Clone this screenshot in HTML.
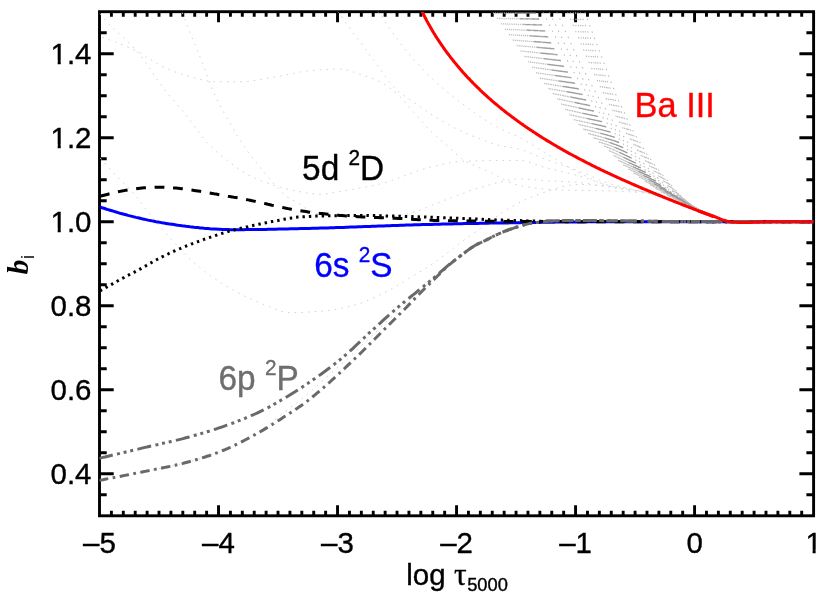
<!DOCTYPE html>
<html><head><meta charset="utf-8"><title>b_i vs log tau</title>
<style>html,body{margin:0;padding:0;background:#fff}svg{display:block;will-change:transform}</style>
</head><body>
<svg width="830" height="593" viewBox="0 0 830 593">
<rect width="830" height="593" fill="#fff"/>
<defs><clipPath id="c"><rect x="99.5" y="11.7" width="714.1" height="504.09999999999997"/></clipPath></defs>
<rect x="99.5" y="11.7" width="714.1" height="504.09999999999997" fill="none" stroke="#000" stroke-width="2.9"/>
<path d="M111.40,515.8v-5.1M111.40,11.7v5.1M123.30,515.8v-5.1M123.30,11.7v5.1M135.20,515.8v-5.1M135.20,11.7v5.1M147.11,515.8v-5.1M147.11,11.7v5.1M159.01,515.8v-5.1M159.01,11.7v5.1M170.91,515.8v-5.1M170.91,11.7v5.1M182.81,515.8v-5.1M182.81,11.7v5.1M194.71,515.8v-5.1M194.71,11.7v5.1M206.62,515.8v-5.1M206.62,11.7v5.1M218.52,515.8v-10.5M218.52,11.7v10.5M230.42,515.8v-5.1M230.42,11.7v5.1M242.32,515.8v-5.1M242.32,11.7v5.1M254.22,515.8v-5.1M254.22,11.7v5.1M266.12,515.8v-5.1M266.12,11.7v5.1M278.02,515.8v-5.1M278.02,11.7v5.1M289.93,515.8v-5.1M289.93,11.7v5.1M301.83,515.8v-5.1M301.83,11.7v5.1M313.73,515.8v-5.1M313.73,11.7v5.1M325.63,515.8v-5.1M325.63,11.7v5.1M337.53,515.8v-10.5M337.53,11.7v10.5M349.44,515.8v-5.1M349.44,11.7v5.1M361.34,515.8v-5.1M361.34,11.7v5.1M373.24,515.8v-5.1M373.24,11.7v5.1M385.14,515.8v-5.1M385.14,11.7v5.1M397.04,515.8v-5.1M397.04,11.7v5.1M408.94,515.8v-5.1M408.94,11.7v5.1M420.85,515.8v-5.1M420.85,11.7v5.1M432.75,515.8v-5.1M432.75,11.7v5.1M444.65,515.8v-5.1M444.65,11.7v5.1M456.55,515.8v-10.5M456.55,11.7v10.5M468.45,515.8v-5.1M468.45,11.7v5.1M480.35,515.8v-5.1M480.35,11.7v5.1M492.25,515.8v-5.1M492.25,11.7v5.1M504.16,515.8v-5.1M504.16,11.7v5.1M516.06,515.8v-5.1M516.06,11.7v5.1M527.96,515.8v-5.1M527.96,11.7v5.1M539.86,515.8v-5.1M539.86,11.7v5.1M551.76,515.8v-5.1M551.76,11.7v5.1M563.66,515.8v-5.1M563.66,11.7v5.1M575.57,515.8v-10.5M575.57,11.7v10.5M587.47,515.8v-5.1M587.47,11.7v5.1M599.37,515.8v-5.1M599.37,11.7v5.1M611.27,515.8v-5.1M611.27,11.7v5.1M623.17,515.8v-5.1M623.17,11.7v5.1M635.08,515.8v-5.1M635.08,11.7v5.1M646.98,515.8v-5.1M646.98,11.7v5.1M658.88,515.8v-5.1M658.88,11.7v5.1M670.78,515.8v-5.1M670.78,11.7v5.1M682.68,515.8v-5.1M682.68,11.7v5.1M694.58,515.8v-10.5M694.58,11.7v10.5M706.48,515.8v-5.1M706.48,11.7v5.1M718.39,515.8v-5.1M718.39,11.7v5.1M730.29,515.8v-5.1M730.29,11.7v5.1M742.19,515.8v-5.1M742.19,11.7v5.1M754.09,515.8v-5.1M754.09,11.7v5.1M765.99,515.8v-5.1M765.99,11.7v5.1M777.89,515.8v-5.1M777.89,11.7v5.1M789.80,515.8v-5.1M789.80,11.7v5.1M801.70,515.8v-5.1M801.70,11.7v5.1M99.5,494.80h7.2M813.6,494.80h-7.2M99.5,473.79h14.2M813.6,473.79h-14.2M99.5,452.79h7.2M813.6,452.79h-7.2M99.5,431.78h7.2M813.6,431.78h-7.2M99.5,410.78h7.2M813.6,410.78h-7.2M99.5,389.77h14.2M813.6,389.77h-14.2M99.5,368.77h7.2M813.6,368.77h-7.2M99.5,347.77h7.2M813.6,347.77h-7.2M99.5,326.76h7.2M813.6,326.76h-7.2M99.5,305.76h14.2M813.6,305.76h-14.2M99.5,284.75h7.2M813.6,284.75h-7.2M99.5,263.75h7.2M813.6,263.75h-7.2M99.5,242.75h7.2M813.6,242.75h-7.2M99.5,221.74h14.2M813.6,221.74h-14.2M99.5,200.74h7.2M813.6,200.74h-7.2M99.5,179.73h7.2M813.6,179.73h-7.2M99.5,158.73h7.2M813.6,158.73h-7.2M99.5,137.73h14.2M813.6,137.73h-14.2M99.5,116.72h7.2M813.6,116.72h-7.2M99.5,95.72h7.2M813.6,95.72h-7.2M99.5,74.71h7.2M813.6,74.71h-7.2M99.5,53.71h14.2M813.6,53.71h-14.2M99.5,32.70h7.2M813.6,32.70h-7.2" stroke="#000" stroke-width="2.9" fill="none"/>
<g clip-path="url(#c)" fill="none">
<g stroke="#d2d2d2" stroke-width="1" stroke-dasharray="1.6 5.1">
<path d="M96.0,8.0 L98.5,11.6 L101.0,15.1 L103.8,18.5 L106.7,21.7 L109.7,24.9 L112.8,27.9 L116.0,30.9 L119.2,33.9 L122.5,36.9 L125.7,39.9 L128.9,42.9 L132.0,45.9 L135.0,49.1 L137.9,52.3 L140.6,55.7 L143.2,59.1 L145.7,62.7 L148.2,66.3 L150.7,69.9 L153.1,73.5 L155.6,77.2 L158.0,80.8 L160.6,84.3 L163.2,87.8 L165.9,91.3 L168.6,94.6 L171.4,98.0 L174.3,101.3 L177.1,104.6 L180.0,107.9 L182.8,111.2 L185.6,114.6 L188.3,118.0 L191.0,121.4 L193.6,125.0 L196.1,128.6 L198.6,132.2 L201.2,135.7 L203.9,139.1 L206.7,142.4 L209.7,145.5 L212.8,148.5 L216.1,151.4 L219.4,154.3 L222.9,157.0 L226.3,159.7 L229.8,162.4 L233.3,165.0 L236.8,167.6 L240.4,170.1 L244.1,172.4 L247.9,174.7 L251.7,176.6 L255.6,178.5 L259.6,180.2 L263.7,181.8 L267.9,183.3 L272.0,184.7 L276.1,186.0 L280.3,187.3 L284.5,188.4 L288.8,189.5 L293.0,190.4 L297.3,191.2 L301.6,192.1 L305.9,192.8 L310.3,193.5 L314.6,194.0 L319.0,194.2 L323.3,194.1 L327.6,193.7 L331.9,193.0 L336.2,192.2 L340.6,191.4 L344.9,190.6 L349.2,189.9 L353.5,189.2 L357.8,188.5 L362.1,187.7 L366.4,186.9 L370.7,186.1 L374.9,185.2 L379.2,184.2 L383.4,183.1 L387.5,181.9 L391.7,180.5 L395.8,179.1 L399.9,177.5 L404.0,176.0 L408.1,174.4 L412.2,172.8 L416.3,171.3 L420.5,169.9 L424.6,168.6 L428.8,167.5 L433.0,166.5 L437.3,165.6 L441.6,164.6 L445.9,163.6 L450.2,162.8 L454.5,162.1 L458.8,161.6 L463.1,161.2 L467.5,161.1 L471.8,161.0 L476.2,160.9 L480.6,160.8 L485.0,160.7 L489.4,160.6 L493.8,160.6 L498.2,160.5 L502.5,160.5 L506.9,160.4 L511.2,160.4 L515.6,160.4 L519.8,160.4 L524.1,160.8 L528.3,161.8 L532.5,163.2 L536.6,164.8 L540.8,166.3 L545.0,167.5 L549.2,168.6 L553.5,169.7 L557.7,170.7 L562.0,171.7 L566.2,172.7 L570.4,173.7 L574.7,174.8 L578.9,176.0 L583.0,177.2 L587.2,178.6 L591.4,180.0 L595.5,181.4 L599.6,182.7 L603.8,184.0 L608.0,185.2 L612.2,186.3 L616.5,187.2 L620.8,188.0 L625.1,188.8 L629.4,189.5 L633.7,190.2 L638.0,190.9 L642.3,191.8 L646.6,192.7 L650.8,193.7 L654.9,194.9 L659.0,196.4 L663.1,197.9 L667.2,199.5 L671.3,201.1 L675.4,202.6 L679.5,204.1 L683.6,205.6 L687.7,207.1 L691.8,208.5 L695.9,210.0 L700.0,211.5"/>
<path d="M178.0,0.0 L178.5,1.6 L179.1,3.2 L179.6,4.8 L180.2,6.4 L180.7,8.0 L181.3,9.7 L181.9,11.3 L182.4,12.9 L183.0,14.4 L183.6,16.0 L184.2,17.6 L184.8,19.2 L185.4,20.8 L186.0,22.4 L186.6,24.0 L187.2,25.6 L187.9,27.1 L188.5,28.7 L189.1,30.3 L189.8,31.9 L190.4,33.4 L191.0,35.0 L191.7,36.6 L192.3,38.2 L193.0,39.7 L193.6,41.3 L194.3,42.9 L194.9,44.4 L195.6,46.0 L196.2,47.6 L196.8,49.2 L197.5,50.7 L198.1,52.3 L198.8,53.9 L199.4,55.5 L200.0,57.0 L200.7,58.6 L201.3,60.2 L201.9,61.8 L202.5,63.4 L203.1,65.0 L203.7,66.6 L204.3,68.2 L204.9,69.8 L205.4,71.4 L206.0,73.0 L206.6,74.6 L207.2,76.2 L207.8,77.8 L208.4,79.4 L209.0,80.9 L209.6,82.5 L210.2,84.1 L210.8,85.7 L211.4,87.3 L212.1,88.8 L212.8,90.4 L213.4,91.9 L214.1,93.5 L214.8,95.0 L215.5,96.6 L216.3,98.1 L217.0,99.6 L217.8,101.1 L218.6,102.6 L219.4,104.1 L220.2,105.6 L221.0,107.1 L221.8,108.6 L222.6,110.1 L223.4,111.6 L224.3,113.1 L225.1,114.6 L225.9,116.1 L226.8,117.5 L227.6,119.0 L228.5,120.5 L229.3,122.0 L230.2,123.4 L231.0,124.9 L231.9,126.4 L232.7,127.9 L233.6,129.3 L234.4,130.8 L235.3,132.3 L236.2,133.7 L237.0,135.2 L237.9,136.6 L238.8,138.1 L239.7,139.5 L240.6,141.0 L241.6,142.4 L242.5,143.8 L243.4,145.2 L244.4,146.6 L245.4,148.0 L246.3,149.4 L247.3,150.8 L248.3,152.1 L249.3,153.5 L250.3,154.9 L251.4,156.2 L252.4,157.6 L253.4,158.9 L254.5,160.3 L255.5,161.6 L256.5,163.0 L257.6,164.3 L258.6,165.7 L259.7,167.0 L260.7,168.3 L261.8,169.6 L262.9,171.0 L264.0,172.3 L265.1,173.6 L266.1,174.9 L267.2,176.2 L268.4,177.5 L269.5,178.7 L270.6,180.0 L271.7,181.3 L272.9,182.5 L274.0,183.8 L275.2,185.1 L276.3,186.4 L277.5,187.6 L278.6,188.9 L279.8,190.1 L281.0,191.4 L282.2,192.5 L283.5,193.7 L284.7,194.8 L286.0,195.9 L287.3,196.9 L288.7,197.8 L290.1,198.7 L291.6,199.6 L293.1,200.4 L294.6,201.2 L296.1,202.1 L297.6,202.9 L299.1,203.7 L300.6,204.6 L302.0,205.5 L303.4,206.5 L304.8,207.5 L306.2,208.5 L307.6,209.5 L309.0,210.3 L310.5,211.1 L312.0,211.8 L313.6,212.4 L315.1,213.1 L316.7,213.7 L318.3,214.3 L319.9,214.8 L321.6,215.2 L323.3,215.6 L325.0,216.0"/>
<path d="M96.0,35.0 L99.9,36.4 L103.8,37.8 L107.7,39.2 L111.5,40.7 L115.4,42.1 L119.3,43.6 L123.1,45.2 L126.9,46.8 L130.7,48.4 L134.5,50.1 L138.2,51.9 L141.8,53.8 L145.3,56.0 L148.8,58.3 L152.3,60.6 L155.8,62.8 L159.3,65.0 L162.9,66.8 L166.7,68.5 L170.5,70.1 L174.3,71.7 L178.2,73.1 L182.2,74.4 L186.1,75.6 L190.1,76.7 L194.1,77.8 L198.1,78.9 L202.2,79.9 L206.2,80.7 L210.3,81.3 L214.4,81.5 L218.5,81.6 L222.6,81.7 L226.8,81.7 L230.9,81.8 L235.1,81.8 L239.2,81.8 L243.3,81.7 L247.4,81.4 L251.5,80.9 L255.6,80.3 L259.7,79.6 L263.8,78.9 L267.9,78.1 L271.9,77.4 L276.0,76.7 L280.1,76.0 L284.2,75.2 L288.2,74.4 L292.3,73.6 L296.3,72.8 L300.4,72.0 L304.5,71.4 L308.6,70.8 L312.7,70.5 L316.8,70.1 L320.9,69.8 L325.1,69.5 L329.2,69.2 L333.3,69.1 L337.4,69.0 L341.5,69.2 L345.5,69.8 L349.6,70.8 L353.6,72.1 L357.6,73.4 L361.5,74.7 L365.4,76.0 L369.4,77.3 L373.3,78.8 L377.1,80.5 L380.7,82.3 L384.3,84.3 L387.8,86.6 L391.2,89.0 L394.4,91.6 L397.5,94.3 L400.5,97.1 L403.3,100.1 L406.0,103.3 L408.7,106.4 L411.3,109.6 L414.1,112.7 L416.8,115.8 L419.6,118.9 L422.3,122.0 L425.1,125.1 L427.9,128.1 L430.8,131.0 L433.8,133.9 L436.8,136.7 L439.9,139.4 L443.1,142.1 L446.2,144.8 L449.3,147.6 L452.3,150.4 L455.4,153.3 L458.5,156.1 L461.7,158.6 L465.0,160.9 L468.6,162.8 L472.2,164.7 L476.0,166.4 L479.9,168.0 L483.7,169.6 L487.5,171.3 L491.3,173.0 L495.1,174.9 L498.8,176.8 L502.5,178.8 L506.3,180.7 L510.0,182.4 L513.9,183.9 L517.7,185.1 L521.6,185.9 L525.6,186.6 L529.7,187.2 L533.8,187.8 L537.9,188.3 L542.0,188.8 L546.2,189.1 L550.4,189.5 L554.5,189.8 L558.7,190.0 L562.8,190.1 L566.9,190.2 L571.0,190.3 L575.2,190.4 L579.3,190.4 L583.4,190.5 L587.6,190.5 L591.7,190.6 L595.8,190.7 L600.0,190.7 L604.1,190.8 L608.2,190.9 L612.3,191.0 L616.5,191.2 L620.6,191.3 L624.8,191.5 L629.0,191.8 L633.1,192.0 L637.3,192.3 L641.4,192.6 L645.4,193.0 L649.5,193.4 L653.4,194.1 L657.3,195.2 L661.2,196.7 L665.1,198.3 L668.9,200.0 L672.8,201.7 L676.7,203.1 L680.6,204.5 L684.5,205.9 L688.3,207.3 L692.2,208.7 L696.1,210.1 L700.0,211.5"/>
<path d="M330.0,0.0 L331.5,2.3 L333.1,4.6 L334.6,6.9 L336.2,9.2 L337.8,11.5 L339.4,13.7 L341.0,16.0 L342.6,18.3 L344.2,20.5 L345.9,22.8 L347.5,25.0 L349.1,27.3 L350.7,29.5 L352.3,31.8 L354.0,34.0 L355.7,36.2 L357.4,38.4 L359.1,40.6 L360.7,42.8 L362.4,45.0 L364.0,47.3 L365.6,49.5 L367.3,51.8 L368.9,54.0 L370.6,56.3 L372.2,58.5 L373.9,60.7 L375.6,62.9 L377.3,65.1 L378.9,67.3 L380.5,69.6 L382.1,71.9 L383.7,74.1 L385.4,76.4 L387.1,78.6 L388.7,80.8 L390.4,83.1 L392.2,85.3 L394.0,87.4 L395.8,89.4 L397.8,91.2 L399.9,92.9 L402.2,94.6 L404.5,96.1 L406.8,97.7 L409.2,99.2 L411.5,100.7 L413.8,102.3 L416.1,103.9 L418.4,105.5 L420.6,107.1 L422.9,108.7 L425.1,110.3 L427.4,111.9 L429.7,113.4 L432.1,114.9 L434.4,116.4 L436.8,117.9 L439.2,119.3 L441.5,120.7 L443.9,122.1 L446.4,123.5 L448.8,124.8 L451.2,126.1 L453.7,127.4 L456.2,128.7 L458.7,129.9 L461.2,131.1 L463.7,132.2 L466.2,133.4 L468.8,134.4 L471.4,135.5 L473.9,136.5 L476.5,137.5 L479.1,138.5 L481.7,139.5 L484.3,140.5 L486.9,141.5 L489.5,142.5 L492.1,143.4 L494.8,144.3 L497.4,145.1 L500.1,145.7 L502.8,146.2 L505.6,146.7 L508.3,147.2 L511.1,147.6 L513.8,148.1 L516.5,148.6 L519.2,149.2 L521.9,149.9 L524.5,150.8 L527.1,151.7 L529.7,152.8 L532.2,153.9 L534.8,155.0 L537.3,156.1 L539.9,157.2 L542.5,158.2 L545.1,159.2 L547.7,160.2 L550.3,161.1 L552.9,162.0 L555.6,162.9 L558.2,163.8 L560.8,164.7 L563.5,165.6 L566.1,166.4 L568.7,167.3 L571.3,168.3 L573.9,169.2 L576.5,170.1 L579.1,171.1 L581.7,172.2 L584.3,173.2 L586.9,174.3 L589.4,175.4 L592.0,176.5 L594.5,177.7 L597.1,178.8 L599.6,179.8 L602.2,180.9 L604.8,181.9 L607.4,182.8 L610.0,183.7 L612.6,184.5 L615.3,185.2 L618.0,185.9 L620.7,186.6 L623.4,187.2 L626.1,187.8 L628.8,188.4 L631.5,189.0 L634.2,189.6 L637.0,190.2 L639.7,190.8 L642.4,191.5 L645.1,192.1 L647.7,192.9 L650.4,193.6 L653.0,194.4 L655.7,195.3 L658.3,196.2 L660.9,197.2 L663.5,198.2 L666.1,199.2 L668.7,200.1 L671.3,201.1 L673.9,202.1 L676.5,203.0 L679.1,204.0 L681.7,204.9 L684.3,205.9 L686.9,206.8 L689.6,207.7 L692.2,208.7 L694.8,209.6 L697.4,210.6 L700.0,211.5"/>
<path d="M370.0,0.0 L371.4,2.1 L372.8,4.2 L374.2,6.3 L375.6,8.4 L377.1,10.5 L378.5,12.6 L379.9,14.7 L381.4,16.8 L382.8,18.9 L384.3,21.0 L385.7,23.0 L387.2,25.1 L388.7,27.1 L390.2,29.2 L391.7,31.2 L393.2,33.2 L394.7,35.3 L396.2,37.4 L397.6,39.4 L399.1,41.5 L400.6,43.5 L402.2,45.6 L403.7,47.6 L405.3,49.5 L406.9,51.5 L408.5,53.5 L410.1,55.4 L411.8,57.3 L413.5,59.2 L415.2,61.1 L416.9,63.0 L418.6,64.8 L420.4,66.7 L422.1,68.5 L423.9,70.4 L425.6,72.2 L427.4,74.0 L429.2,75.8 L431.0,77.6 L432.8,79.3 L434.7,81.0 L436.5,82.8 L438.4,84.4 L440.3,86.1 L442.3,87.8 L444.2,89.4 L446.2,91.0 L448.1,92.6 L450.1,94.2 L452.1,95.8 L454.1,97.4 L456.1,98.9 L458.1,100.5 L460.1,102.0 L462.1,103.6 L464.1,105.1 L466.1,106.7 L468.2,108.2 L470.2,109.7 L472.3,111.2 L474.3,112.6 L476.4,114.1 L478.5,115.5 L480.6,116.9 L482.7,118.3 L484.9,119.6 L487.0,121.0 L489.2,122.3 L491.4,123.6 L493.6,124.9 L495.8,126.1 L498.0,127.3 L500.3,128.5 L502.5,129.7 L504.8,130.7 L507.1,131.8 L509.4,132.8 L511.8,133.8 L514.1,134.8 L516.4,135.9 L518.7,136.9 L520.9,138.1 L523.2,139.3 L525.4,140.6 L527.5,141.9 L529.7,143.2 L531.8,144.5 L534.0,145.9 L536.1,147.3 L538.3,148.6 L540.4,150.0 L542.6,151.3 L544.8,152.6 L546.9,154.0 L549.1,155.3 L551.2,156.6 L553.4,158.0 L555.6,159.3 L557.7,160.7 L559.9,162.0 L562.0,163.3 L564.2,164.6 L566.4,165.9 L568.6,167.2 L570.8,168.4 L573.0,169.7 L575.2,170.8 L577.5,172.0 L579.7,173.1 L582.0,174.3 L584.3,175.4 L586.6,176.6 L588.9,177.7 L591.2,178.8 L593.5,179.9 L595.8,181.0 L598.2,182.0 L600.5,183.0 L602.9,183.9 L605.2,184.8 L607.6,185.5 L610.0,186.2 L612.4,186.9 L614.9,187.4 L617.3,187.9 L619.8,188.4 L622.3,188.8 L624.8,189.2 L627.4,189.6 L629.9,190.0 L632.4,190.3 L634.9,190.7 L637.5,191.1 L640.0,191.5 L642.5,191.9 L645.0,192.4 L647.5,192.9 L649.9,193.5 L652.3,194.1 L654.7,194.9 L657.1,195.7 L659.5,196.5 L661.9,197.4 L664.3,198.3 L666.6,199.3 L669.0,200.2 L671.4,201.1 L673.8,202.0 L676.1,202.9 L678.5,203.8 L680.9,204.6 L683.3,205.5 L685.7,206.3 L688.1,207.2 L690.5,208.1 L692.8,208.9 L695.2,209.8 L697.6,210.6 L700.0,211.5"/>
<path d="M96.0,153.0 L98.9,156.4 L101.7,159.8 L104.7,163.1 L107.6,166.4 L110.6,169.7 L113.6,172.9 L116.6,176.2 L119.7,179.3 L122.8,182.4 L126.0,185.5 L129.2,188.6 L132.3,191.8 L135.2,195.1 L138.0,198.5 L140.6,202.0 L143.3,205.6 L145.9,209.2 L148.7,212.7 L151.4,216.1 L154.3,219.5 L157.1,222.9 L160.0,226.3 L162.9,229.6 L165.8,233.0 L168.7,236.3 L171.6,239.6 L174.6,242.9 L177.6,246.2 L180.5,249.5 L183.5,252.8 L186.6,256.0 L189.8,259.0 L193.1,261.9 L196.4,264.8 L199.8,267.6 L203.3,270.4 L206.9,273.1 L210.5,275.7 L214.1,278.2 L217.7,280.7 L221.4,283.1 L225.2,285.4 L229.0,287.7 L232.9,289.9 L236.8,292.0 L240.7,294.1 L244.6,296.0 L248.6,298.0 L252.7,299.8 L256.7,301.6 L260.8,303.3 L265.0,304.9 L269.1,306.5 L273.3,308.3 L277.5,310.0 L281.7,311.4 L286.0,312.4 L290.3,312.7 L294.7,312.7 L299.1,312.5 L303.5,312.4 L307.9,312.1 L312.4,311.8 L316.9,311.5 L321.3,311.2 L325.7,310.8 L330.1,310.3 L334.4,309.6 L338.8,308.8 L343.2,307.9 L347.5,306.9 L351.8,305.8 L356.1,304.7 L360.3,303.4 L364.4,301.9 L368.5,300.1 L372.6,298.3 L376.6,296.5 L380.6,294.6 L384.6,292.6 L388.5,290.6 L392.4,288.4 L396.2,286.2 L400.0,283.9 L403.8,281.6 L407.5,279.3 L411.3,277.0 L415.1,274.7 L418.9,272.5 L422.7,270.2 L426.5,267.8 L430.2,265.4 L433.8,262.9 L437.4,260.3 L440.9,257.7 L444.5,255.0 L448.0,252.3 L451.5,249.6 L455.0,246.9 L458.5,244.2 L462.0,241.5 L465.6,238.9 L469.2,236.3 L472.8,233.8 L476.5,231.3 L480.1,228.7 L483.7,226.2 L487.3,223.5 L490.9,220.8 L494.4,218.1 L498.0,215.5 L501.6,212.9 L505.2,210.5 L509.0,208.2 L512.8,206.1 L516.7,204.0 L520.7,202.0 L524.7,200.0 L528.8,198.2 L532.9,196.4 L537.0,194.8 L541.1,193.3 L545.3,192.0 L549.5,190.6 L553.8,189.2 L558.1,187.9 L562.4,186.7 L566.8,185.7 L571.1,184.9 L575.5,184.5 L579.9,184.5 L584.3,184.6 L588.7,184.8 L593.1,185.1 L597.6,185.4 L602.0,185.7 L606.4,186.1 L610.8,186.5 L615.2,186.9 L619.6,187.5 L624.0,188.1 L628.4,188.9 L632.8,189.7 L637.1,190.5 L641.5,191.5 L645.8,192.5 L650.0,193.5 L654.3,194.7 L658.4,196.1 L662.6,197.7 L666.7,199.3 L670.9,200.9 L675.0,202.5 L679.2,204.0 L683.3,205.5 L687.5,207.0 L691.7,208.5 L695.8,210.0 L700.0,211.5"/>
<path d="M380.0,218.0 L382.1,217.8 L384.2,217.6 L386.2,217.4 L388.3,217.2 L390.4,216.9 L392.4,216.6 L394.5,216.3 L396.5,215.9 L398.6,215.6 L400.6,215.2 L402.6,214.8 L404.7,214.4 L406.7,214.0 L408.7,213.5 L410.6,213.0 L412.6,212.5 L414.6,211.9 L416.5,211.2 L418.5,210.5 L420.5,209.8 L422.4,209.1 L424.3,208.4 L426.3,207.6 L428.2,206.8 L430.2,206.0 L432.1,205.2 L434.0,204.4 L436.0,203.6 L437.9,202.8 L439.8,202.0 L441.8,201.2 L443.7,200.5 L445.7,199.8 L447.6,199.1 L449.6,198.4 L451.5,197.6 L453.5,196.9 L455.4,196.2 L457.4,195.5 L459.3,194.7 L461.3,194.0 L463.2,193.3 L465.2,192.5 L467.1,191.8 L469.1,191.1 L471.0,190.4 L473.0,189.8 L475.0,189.1 L476.9,188.5 L478.9,187.9 L480.9,187.4 L482.9,186.8 L484.9,186.3 L486.9,185.7 L488.9,185.1 L490.9,184.5 L492.9,183.9 L495.0,183.3 L497.0,182.7 L499.0,182.2 L501.0,181.7 L503.1,181.2 L505.1,180.7 L507.2,180.3 L509.2,179.9 L511.2,179.6 L513.3,179.3 L515.3,179.1 L517.4,179.0 L519.4,178.9 L521.5,178.9 L523.5,179.0 L525.6,179.1 L527.7,179.2 L529.7,179.4 L531.8,179.6 L533.9,179.8 L536.0,180.0 L538.0,180.2 L540.1,180.3 L542.2,180.5 L544.3,180.6 L546.3,180.7 L548.4,180.9 L550.5,181.0 L552.6,181.0 L554.6,181.1 L556.7,181.2 L558.8,181.3 L560.9,181.4 L562.9,181.5 L565.0,181.6 L567.1,181.7 L569.2,181.8 L571.2,181.9 L573.3,182.0 L575.4,182.1 L577.4,182.3 L579.5,182.5 L581.5,182.7 L583.6,182.9 L585.7,183.2 L587.7,183.5 L589.8,183.8 L591.8,184.1 L593.9,184.5 L595.9,184.8 L598.0,185.2 L600.0,185.5 L602.1,185.9 L604.1,186.3 L606.1,186.6 L608.2,187.0 L610.2,187.3 L612.3,187.6 L614.4,187.9 L616.4,188.2 L618.5,188.5 L620.5,188.8 L622.6,189.0 L624.7,189.3 L626.7,189.6 L628.8,189.9 L630.9,190.2 L632.9,190.5 L635.0,190.8 L637.0,191.1 L639.1,191.4 L641.1,191.7 L643.2,192.1 L645.2,192.5 L647.2,192.9 L649.2,193.3 L651.2,193.8 L653.2,194.3 L655.2,194.9 L657.1,195.6 L659.1,196.3 L661.0,197.0 L663.0,197.8 L664.9,198.5 L666.9,199.3 L668.8,200.1 L670.7,200.9 L672.7,201.6 L674.6,202.4 L676.6,203.1 L678.5,203.8 L680.5,204.5 L682.4,205.2 L684.4,205.9 L686.3,206.6 L688.3,207.3 L690.2,208.0 L692.2,208.7 L694.1,209.4 L696.1,210.1 L698.0,210.8 L700.0,211.5"/>
</g>
<path d="M100.0,480.2 L102.0,479.8 L104.0,479.5 L106.0,479.1 L108.0,478.7 L110.0,478.3 L112.0,478.0 L114.0,477.6 L116.0,477.2 L118.0,476.8 L120.0,476.4 L122.0,476.0 L124.0,475.6 L126.0,475.2 L128.0,474.8 L130.0,474.4 L132.0,474.0 L134.0,473.6 L136.0,473.2 L138.0,472.8 L140.0,472.4 L142.0,472.0 L144.0,471.6 L146.0,471.2 L148.0,470.8 L150.0,470.4 L152.0,470.0 L154.0,469.6 L156.0,469.2 L158.0,468.8 L160.0,468.4 L162.0,468.0 L164.0,467.6 L166.0,467.2 L168.0,466.8 L170.0,466.4 L172.0,465.9 L174.0,465.5 L176.0,465.0 L178.0,464.6 L180.0,464.1 L182.0,463.6 L184.0,463.1 L186.0,462.6 L188.0,462.0 L190.0,461.5 L192.0,460.9 L194.0,460.4 L196.0,459.8 L198.0,459.2 L200.0,458.6 L202.0,458.0 L204.0,457.3 L206.0,456.7 L208.0,456.0 L210.0,455.3 L212.0,454.6 L214.0,453.9 L216.0,453.2 L218.0,452.4 L220.0,451.7 L222.0,450.9 L224.0,450.1 L226.0,449.3 L228.0,448.4 L230.0,447.5 L232.0,446.6 L234.0,445.6 L236.0,444.7 L238.0,443.7 L240.0,442.7 L242.0,441.6 L244.0,440.6 L246.0,439.5 L248.0,438.4 L250.0,437.4 L252.0,436.0 L254.0,434.6 L256.0,433.2 L258.0,431.8 L260.0,430.4 L262.0,429.0 L264.0,427.6 L266.0,426.2 L268.0,424.7 L270.0,423.2 L272.0,421.7 L274.0,420.2 L276.0,418.7 L278.0,417.2 L280.0,415.7 L282.0,414.1 L284.0,412.6 L286.0,411.1 L288.0,409.6 L290.0,408.1 L292.0,406.5 L294.0,405.0 L296.0,403.5 L298.0,401.9 L300.0,400.3 L302.0,398.7 L304.0,397.0 L306.0,395.3 L308.0,393.6 L310.0,391.9 L312.0,390.2 L314.0,388.4 L316.0,386.7 L318.0,384.9 L320.0,383.1 L322.0,381.3 L324.0,379.5 L326.0,377.7 L328.0,375.8 L330.0,374.0 L332.0,372.3 L334.0,370.7 L336.0,369.0 L338.0,367.3 L340.0,365.5 L342.0,363.8 L344.0,362.0 L346.0,360.2 L348.0,358.4 L350.0,356.5 L352.0,354.7 L354.0,352.8 L356.0,350.9 L358.0,349.0 L360.0,347.1 L362.0,345.2 L364.0,343.3 L366.0,341.3 L368.0,339.4 L370.0,337.5 L372.0,335.6 L374.0,333.7 L376.0,331.7 L378.0,329.8 L380.0,327.9 L382.0,326.0 L384.0,324.1 L386.0,322.2 L388.0,320.3 L390.0,318.5 L392.0,316.6 L394.0,314.7 L396.0,312.9 L398.0,311.1 L400.0,309.2 L402.0,307.4 L404.0,305.6 L406.0,303.8 L408.0,302.0 L410.0,300.1 L412.0,298.3 L414.0,296.5 L416.0,294.7 L418.0,292.9 L420.0,291.1 L422.0,289.3 L424.0,287.5 L426.0,285.7 L428.0,283.9 L430.0,282.1 L432.0,280.3 L434.0,278.5 L436.0,276.7 L438.0,274.8 L440.0,273.0 L442.0,271.1 L444.0,269.2 L446.0,267.4 L448.0,265.7 L450.0,264.0" stroke="#d2d2d2" stroke-width="1" stroke-dasharray="1.6 5.1"/>
<g stroke-width="1.05" stroke-dasharray="1.5 5.2">
<path d="M493.1,12.5 L494.2,14.0 L495.4,15.5 L496.5,17.0 L497.6,18.5 L498.7,20.0 L499.8,21.5 L500.9,23.0 L502.0,24.5 L503.1,26.0 L504.2,27.5 L505.3,29.0 L506.4,30.5 L507.4,32.0 L508.5,33.5 L509.6,35.0 L510.7,36.5 L511.8,38.0 L512.8,39.5 L513.9,41.0 L515.0,42.5 L516.1,44.0 L517.1,45.5 L518.2,47.0 L519.3,48.5 L520.4,50.0 L521.4,51.5 L522.5,53.0 L523.6,54.5 L524.7,56.0 L525.7,57.5 L526.8,59.0 L527.9,60.5 L529.0,62.0 L530.1,63.5 L531.2,65.0 L532.2,66.5 L533.3,68.0 L534.3,69.5 L535.4,71.0 L536.5,72.5 L537.5,74.0 L538.6,75.5 L539.7,77.0 L540.8,78.5 L541.9,80.0 L543.1,81.5 L544.3,83.0 L545.5,84.5 L546.7,86.0 L548.0,87.5 L549.3,89.0 L550.6,90.5 L551.9,92.0 L553.2,93.5 L554.5,95.0 L555.7,96.5 L557.0,98.0 L558.2,99.5 L559.4,101.0 L560.5,102.5 L561.7,104.0 L562.8,105.5 L564.0,107.0 L565.1,108.5 L566.3,110.0 L567.4,111.5 L568.6,113.0 L569.8,114.5 L571.1,116.0 L572.4,117.5 L573.7,119.0 L575.1,120.5 L576.5,122.0 L578.0,123.5 L579.5,125.0 L581.0,126.5 L582.6,128.0 L584.2,129.5 L585.8,131.0 L587.5,132.5 L589.2,134.0 L590.9,135.5 L592.8,137.0 L594.7,138.5 L596.6,140.0 L598.6,141.5 L600.6,143.0 L602.5,144.5 L604.3,146.0 L606.0,147.5 L607.6,149.0 L609.2,150.5 L610.6,152.0 L612.0,153.5 L613.5,155.0 L614.9,156.5 L616.3,158.0 L617.7,159.5 L619.3,161.0 L620.9,162.5 L622.5,164.0 L624.3,165.5 L626.1,167.0 L628.0,168.5 L629.9,170.0 L631.8,171.5 L633.8,173.0 L635.8,174.5 L637.8,176.0 L639.8,177.5 L641.9,179.0 L644.0,180.5 L646.1,182.0 L648.3,183.5 L650.5,185.0 L652.8,186.5 L655.1,188.0 L657.5,189.5 L659.9,191.0 L662.5,192.5 L665.1,194.0 L667.8,195.5 L670.5,197.0 L673.5,198.5 L676.5,200.0 L679.6,201.5 L682.7,203.0 L685.9,204.5 L689.3,206.0 L692.7,207.5 L696.2,209.0 L699.8,210.5 L703.5,212.0" stroke="#bbbbbb"/>
<path d="M495.3,12.5 L496.4,14.0 L497.5,15.5 L498.6,17.0 L499.7,18.5 L500.8,20.0 L501.9,21.5 L503.0,23.0 L504.1,24.5 L505.1,26.0 L506.2,27.5 L507.3,29.0 L508.4,30.5 L509.4,32.0 L510.5,33.5 L511.6,35.0 L512.6,36.5 L513.7,38.0 L514.7,39.5 L515.8,41.0 L516.9,42.5 L517.9,44.0 L519.0,45.5 L520.0,47.0 L521.1,48.5 L522.2,50.0 L523.2,51.5 L524.3,53.0 L525.3,54.5 L526.4,56.0 L527.5,57.5 L528.5,59.0 L529.6,60.5 L530.7,62.0 L531.7,63.5 L532.8,65.0 L533.9,66.5 L534.9,68.0 L536.0,69.5 L537.0,71.0 L538.1,72.5 L539.1,74.0 L540.2,75.5 L541.3,77.0 L542.4,78.5 L543.5,80.0 L544.7,81.5 L545.8,83.0 L547.1,84.5 L548.3,86.0 L549.5,87.5 L550.8,89.0 L552.1,90.5 L553.4,92.0 L554.7,93.5 L555.9,95.0 L557.2,96.5 L558.4,98.0 L559.6,99.5 L560.8,101.0 L561.9,102.5 L563.1,104.0 L564.2,105.5 L565.4,107.0 L566.5,108.5 L567.6,110.0 L568.8,111.5 L570.0,113.0 L571.2,114.5 L572.4,116.0 L573.7,117.5 L575.0,119.0 L576.4,120.5 L577.8,122.0 L579.3,123.5 L580.8,125.0 L582.3,126.5 L583.9,128.0 L585.5,129.5 L587.1,131.0 L588.7,132.5 L590.4,134.0 L592.1,135.5 L593.9,137.0 L595.8,138.5 L597.7,140.0 L599.6,141.5 L601.5,143.0 L603.4,144.5 L605.2,146.0 L606.9,147.5 L608.5,149.0 L610.0,150.5 L611.4,152.0 L612.9,153.5 L614.3,155.0 L615.6,156.5 L617.1,158.0 L618.5,159.5 L620.0,161.0 L621.6,162.5 L623.3,164.0 L625.0,165.5 L626.8,167.0 L628.7,168.5 L630.6,170.0 L632.5,171.5 L634.5,173.0 L636.4,174.5 L638.4,176.0 L640.4,177.5 L642.5,179.0 L644.5,180.5 L646.6,182.0 L648.8,183.5 L651.0,185.0 L653.2,186.5 L655.6,188.0 L657.9,189.5 L660.4,191.0 L662.9,192.5 L665.5,194.0 L668.2,195.5 L670.9,197.0 L673.8,198.5 L676.8,200.0 L679.9,201.5 L683.0,203.0 L686.2,204.5 L689.4,206.0 L692.8,207.5 L696.3,209.0 L699.8,210.5 L703.5,212.0" stroke="#bbbbbb"/>
<path d="M497.5,12.5 L498.6,14.0 L499.7,15.5 L500.8,17.0 L501.8,18.5 L502.9,20.0 L504.0,21.5 L505.1,23.0 L506.1,24.5 L507.2,26.0 L508.2,27.5 L509.3,29.0 L510.3,30.5 L511.4,32.0 L512.4,33.5 L513.5,35.0 L514.5,36.5 L515.6,38.0 L516.6,39.5 L517.7,41.0 L518.7,42.5 L519.8,44.0 L520.8,45.5 L521.8,47.0 L522.9,48.5 L523.9,50.0 L525.0,51.5 L526.0,53.0 L527.1,54.5 L528.1,56.0 L529.2,57.5 L530.2,59.0 L531.3,60.5 L532.4,62.0 L533.4,63.5 L534.5,65.0 L535.5,66.5 L536.6,68.0 L537.6,69.5 L538.7,71.0 L539.7,72.5 L540.8,74.0 L541.8,75.5 L542.9,77.0 L544.0,78.5 L545.1,80.0 L546.3,81.5 L547.4,83.0 L548.6,84.5 L549.8,86.0 L551.1,87.5 L552.3,89.0 L553.6,90.5 L554.9,92.0 L556.1,93.5 L557.4,95.0 L558.6,96.5 L559.8,98.0 L561.0,99.5 L562.2,101.0 L563.4,102.5 L564.5,104.0 L565.6,105.5 L566.7,107.0 L567.9,108.5 L569.0,110.0 L570.2,111.5 L571.4,113.0 L572.6,114.5 L573.8,116.0 L575.1,117.5 L576.4,119.0 L577.8,120.5 L579.2,122.0 L580.6,123.5 L582.1,125.0 L583.6,126.5 L585.1,128.0 L586.7,129.5 L588.3,131.0 L589.9,132.5 L591.6,134.0 L593.2,135.5 L595.0,137.0 L596.8,138.5 L598.7,140.0 L600.6,141.5 L602.5,143.0 L604.4,144.5 L606.1,146.0 L607.8,147.5 L609.3,149.0 L610.8,150.5 L612.3,152.0 L613.7,153.5 L615.1,155.0 L616.4,156.5 L617.8,158.0 L619.3,159.5 L620.8,161.0 L622.3,162.5 L624.0,164.0 L625.7,165.5 L627.5,167.0 L629.4,168.5 L631.2,170.0 L633.2,171.5 L635.1,173.0 L637.1,174.5 L639.0,176.0 L641.0,177.5 L643.1,179.0 L645.1,180.5 L647.2,182.0 L649.3,183.5 L651.5,185.0 L653.7,186.5 L656.0,188.0 L658.4,189.5 L660.8,191.0 L663.3,192.5 L665.9,194.0 L668.5,195.5 L671.3,197.0 L674.2,198.5 L677.2,200.0 L680.2,201.5 L683.3,203.0 L686.4,204.5 L689.6,206.0 L692.9,207.5 L696.4,209.0 L699.9,210.5 L703.6,212.0" stroke="#bbbbbb"/>
<path d="M499.7,12.5 L500.7,14.0 L501.8,15.5 L502.9,17.0 L504.0,18.5 L505.0,20.0 L506.1,21.5 L507.1,23.0 L508.2,24.5 L509.2,26.0 L510.3,27.5 L511.3,29.0 L512.3,30.5 L513.4,32.0 L514.4,33.5 L515.4,35.0 L516.5,36.5 L517.5,38.0 L518.5,39.5 L519.6,41.0 L520.6,42.5 L521.6,44.0 L522.6,45.5 L523.7,47.0 L524.7,48.5 L525.7,50.0 L526.8,51.5 L527.8,53.0 L528.8,54.5 L529.9,56.0 L530.9,57.5 L531.9,59.0 L533.0,60.5 L534.0,62.0 L535.1,63.5 L536.1,65.0 L537.2,66.5 L538.2,68.0 L539.3,69.5 L540.3,71.0 L541.3,72.5 L542.4,74.0 L543.5,75.5 L544.5,77.0 L545.6,78.5 L546.7,80.0 L547.8,81.5 L549.0,83.0 L550.2,84.5 L551.4,86.0 L552.6,87.5 L553.9,89.0 L555.1,90.5 L556.4,92.0 L557.6,93.5 L558.8,95.0 L560.1,96.5 L561.3,98.0 L562.5,99.5 L563.6,101.0 L564.8,102.5 L565.9,104.0 L567.0,105.5 L568.1,107.0 L569.3,108.5 L570.4,110.0 L571.5,111.5 L572.7,113.0 L573.9,114.5 L575.2,116.0 L576.4,117.5 L577.7,119.0 L579.1,120.5 L580.5,122.0 L581.9,123.5 L583.4,125.0 L584.9,126.5 L586.4,128.0 L588.0,129.5 L589.5,131.0 L591.1,132.5 L592.7,134.0 L594.4,135.5 L596.1,137.0 L597.9,138.5 L599.8,140.0 L601.6,141.5 L603.5,143.0 L605.3,144.5 L607.0,146.0 L608.7,147.5 L610.2,149.0 L611.7,150.5 L613.1,152.0 L614.5,153.5 L615.8,155.0 L617.2,156.5 L618.6,158.0 L620.0,159.5 L621.5,161.0 L623.1,162.5 L624.7,164.0 L626.4,165.5 L628.2,167.0 L630.0,168.5 L631.9,170.0 L633.8,171.5 L635.7,173.0 L637.7,174.5 L639.7,176.0 L641.6,177.5 L643.6,179.0 L645.7,180.5 L647.7,182.0 L649.9,183.5 L652.0,185.0 L654.2,186.5 L656.5,188.0 L658.8,189.5 L661.2,191.0 L663.7,192.5 L666.3,194.0 L668.9,195.5 L671.7,197.0 L674.6,198.5 L677.5,200.0 L680.5,201.5 L683.5,203.0 L686.6,204.5 L689.8,206.0 L693.1,207.5 L696.5,209.0 L700.0,210.5 L703.6,212.0" stroke="#bbbbbb"/>
<path d="M501.8,12.5 L502.9,14.0 L504.0,15.5 L505.0,17.0 L506.1,18.5 L507.1,20.0 L508.2,21.5 L509.2,23.0 L510.2,24.5 L511.3,26.0 L512.3,27.5 L513.3,29.0 L514.3,30.5 L515.3,32.0 L516.4,33.5 L517.4,35.0 L518.4,36.5 L519.4,38.0 L520.4,39.5 L521.4,41.0 L522.4,42.5 L523.5,44.0 L524.5,45.5 L525.5,47.0 L526.5,48.5 L527.5,50.0 L528.5,51.5 L529.5,53.0 L530.6,54.5 L531.6,56.0 L532.6,57.5 L533.6,59.0 L534.7,60.5 L535.7,62.0 L536.8,63.5 L537.8,65.0 L538.8,66.5 L539.9,68.0 L540.9,69.5 L541.9,71.0 L543.0,72.5 L544.0,74.0 L545.1,75.5 L546.1,77.0 L547.2,78.5 L548.3,80.0 L549.4,81.5 L550.6,83.0 L551.7,84.5 L552.9,86.0 L554.2,87.5 L555.4,89.0 L556.6,90.5 L557.8,92.0 L559.1,93.5 L560.3,95.0 L561.5,96.5 L562.7,98.0 L563.9,99.5 L565.0,101.0 L566.2,102.5 L567.3,104.0 L568.4,105.5 L569.5,107.0 L570.6,108.5 L571.8,110.0 L572.9,111.5 L574.1,113.0 L575.3,114.5 L576.5,116.0 L577.8,117.5 L579.1,119.0 L580.4,120.5 L581.8,122.0 L583.2,123.5 L584.7,125.0 L586.2,126.5 L587.7,128.0 L589.2,129.5 L590.8,131.0 L592.3,132.5 L593.9,134.0 L595.5,135.5 L597.2,137.0 L599.0,138.5 L600.8,140.0 L602.6,141.5 L604.4,143.0 L606.2,144.5 L607.9,146.0 L609.5,147.5 L611.0,149.0 L612.5,150.5 L613.9,152.0 L615.3,153.5 L616.6,155.0 L618.0,156.5 L619.4,158.0 L620.8,159.5 L622.3,161.0 L623.8,162.5 L625.5,164.0 L627.2,165.5 L628.9,167.0 L630.7,168.5 L632.6,170.0 L634.5,171.5 L636.4,173.0 L638.3,174.5 L640.3,176.0 L642.2,177.5 L644.2,179.0 L646.3,180.5 L648.3,182.0 L650.4,183.5 L652.5,185.0 L654.7,186.5 L657.0,188.0 L659.3,189.5 L661.7,191.0 L664.1,192.5 L666.7,194.0 L669.3,195.5 L672.1,197.0 L674.9,198.5 L677.9,200.0 L680.8,201.5 L683.8,203.0 L686.8,204.5 L690.0,206.0 L693.2,207.5 L696.5,209.0 L700.0,210.5 L703.6,212.0" stroke="#bbbbbb"/>
<path d="M504.0,12.5 L505.1,14.0 L506.1,15.5 L507.2,17.0 L508.2,18.5 L509.2,20.0 L510.3,21.5 L511.3,23.0 L512.3,24.5 L513.3,26.0 L514.3,27.5 L515.3,29.0 L516.3,30.5 L517.3,32.0 L518.3,33.5 L519.3,35.0 L520.3,36.5 L521.3,38.0 L522.3,39.5 L523.3,41.0 L524.3,42.5 L525.3,44.0 L526.3,45.5 L527.3,47.0 L528.3,48.5 L529.3,50.0 L530.3,51.5 L531.3,53.0 L532.3,54.5 L533.3,56.0 L534.3,57.5 L535.4,59.0 L536.4,60.5 L537.4,62.0 L538.4,63.5 L539.5,65.0 L540.5,66.5 L541.5,68.0 L542.5,69.5 L543.6,71.0 L544.6,72.5 L545.6,74.0 L546.7,75.5 L547.7,77.0 L548.8,78.5 L549.9,80.0 L551.0,81.5 L552.2,83.0 L553.3,84.5 L554.5,86.0 L555.7,87.5 L556.9,89.0 L558.1,90.5 L559.3,92.0 L560.6,93.5 L561.8,95.0 L563.0,96.5 L564.1,98.0 L565.3,99.5 L566.4,101.0 L567.6,102.5 L568.7,104.0 L569.8,105.5 L570.9,107.0 L572.0,108.5 L573.2,110.0 L574.3,111.5 L575.5,113.0 L576.7,114.5 L577.9,116.0 L579.1,117.5 L580.4,119.0 L581.8,120.5 L583.1,122.0 L584.6,123.5 L586.0,125.0 L587.5,126.5 L588.9,128.0 L590.4,129.5 L592.0,131.0 L593.5,132.5 L595.1,134.0 L596.7,135.5 L598.4,137.0 L600.1,138.5 L601.9,140.0 L603.6,141.5 L605.4,143.0 L607.1,144.5 L608.8,146.0 L610.4,147.5 L611.9,149.0 L613.3,150.5 L614.7,152.0 L616.1,153.5 L617.4,155.0 L618.8,156.5 L620.2,158.0 L621.6,159.5 L623.1,161.0 L624.6,162.5 L626.2,164.0 L627.9,165.5 L629.6,167.0 L631.4,168.5 L633.2,170.0 L635.1,171.5 L637.0,173.0 L639.0,174.5 L640.9,176.0 L642.9,177.5 L644.8,179.0 L646.8,180.5 L648.9,182.0 L650.9,183.5 L653.0,185.0 L655.2,186.5 L657.4,188.0 L659.7,189.5 L662.1,191.0 L664.5,192.5 L667.1,194.0 L669.7,195.5 L672.5,197.0 L675.3,198.5 L678.2,200.0 L681.1,201.5 L684.1,203.0 L687.1,204.5 L690.2,206.0 L693.3,207.5 L696.6,209.0 L700.1,210.5 L703.7,212.0" stroke="#bbbbbb"/>
<path d="M506.2,12.5 L507.2,14.0 L508.3,15.5 L509.3,17.0 L510.3,18.5 L511.3,20.0 L512.3,21.5 L513.3,23.0 L514.3,24.5 L515.3,26.0 L516.3,27.5 L517.3,29.0 L518.3,30.5 L519.3,32.0 L520.3,33.5 L521.3,35.0 L522.2,36.5 L523.2,38.0 L524.2,39.5 L525.2,41.0 L526.2,42.5 L527.1,44.0 L528.1,45.5 L529.1,47.0 L530.1,48.5 L531.1,50.0 L532.1,51.5 L533.1,53.0 L534.1,54.5 L535.1,56.0 L536.1,57.5 L537.1,59.0 L538.1,60.5 L539.1,62.0 L540.1,63.5 L541.1,65.0 L542.1,66.5 L543.1,68.0 L544.2,69.5 L545.2,71.0 L546.2,72.5 L547.2,74.0 L548.3,75.5 L549.3,77.0 L550.4,78.5 L551.5,80.0 L552.6,81.5 L553.7,83.0 L554.9,84.5 L556.0,86.0 L557.2,87.5 L558.4,89.0 L559.6,90.5 L560.8,92.0 L562.0,93.5 L563.2,95.0 L564.4,96.5 L565.6,98.0 L566.7,99.5 L567.8,101.0 L569.0,102.5 L570.1,104.0 L571.2,105.5 L572.3,107.0 L573.4,108.5 L574.5,110.0 L575.7,111.5 L576.8,113.0 L578.0,114.5 L579.2,116.0 L580.5,117.5 L581.8,119.0 L583.1,120.5 L584.5,122.0 L585.9,123.5 L587.3,125.0 L588.7,126.5 L590.2,128.0 L591.7,129.5 L593.2,131.0 L594.7,132.5 L596.3,134.0 L597.8,135.5 L599.5,137.0 L601.2,138.5 L602.9,140.0 L604.6,141.5 L606.4,143.0 L608.1,144.5 L609.7,146.0 L611.3,147.5 L612.8,149.0 L614.2,150.5 L615.6,152.0 L616.9,153.5 L618.2,155.0 L619.6,156.5 L621.0,158.0 L622.4,159.5 L623.8,161.0 L625.3,162.5 L626.9,164.0 L628.6,165.5 L630.3,167.0 L632.1,168.5 L633.9,170.0 L635.8,171.5 L637.7,173.0 L639.6,174.5 L641.5,176.0 L643.5,177.5 L645.4,179.0 L647.4,180.5 L649.4,182.0 L651.5,183.5 L653.5,185.0 L655.7,186.5 L657.9,188.0 L660.2,189.5 L662.5,191.0 L665.0,192.5 L667.5,194.0 L670.1,195.5 L672.9,197.0 L675.7,198.5 L678.6,200.0 L681.5,201.5 L684.4,203.0 L687.3,204.5 L690.3,206.0 L693.5,207.5 L696.7,209.0 L700.2,210.5 L703.7,212.0" stroke="#bbbbbb"/>
<path d="M508.4,12.5 L509.4,14.0 L510.4,15.5 L511.4,17.0 L512.4,18.5 L513.4,20.0 L514.4,21.5 L515.4,23.0 L516.4,24.5 L517.4,26.0 L518.4,27.5 L519.3,29.0 L520.3,30.5 L521.3,32.0 L522.2,33.5 L523.2,35.0 L524.2,36.5 L525.1,38.0 L526.1,39.5 L527.1,41.0 L528.0,42.5 L529.0,44.0 L530.0,45.5 L530.9,47.0 L531.9,48.5 L532.9,50.0 L533.8,51.5 L534.8,53.0 L535.8,54.5 L536.8,56.0 L537.8,57.5 L538.8,59.0 L539.8,60.5 L540.8,62.0 L541.8,63.5 L542.8,65.0 L543.8,66.5 L544.8,68.0 L545.8,69.5 L546.8,71.0 L547.8,72.5 L548.9,74.0 L549.9,75.5 L551.0,77.0 L552.0,78.5 L553.1,80.0 L554.2,81.5 L555.3,83.0 L556.4,84.5 L557.6,86.0 L558.8,87.5 L559.9,89.0 L561.1,90.5 L562.3,92.0 L563.5,93.5 L564.7,95.0 L565.8,96.5 L567.0,98.0 L568.1,99.5 L569.3,101.0 L570.4,102.5 L571.5,104.0 L572.6,105.5 L573.7,107.0 L574.8,108.5 L575.9,110.0 L577.1,111.5 L578.2,113.0 L579.4,114.5 L580.6,116.0 L581.8,117.5 L583.1,119.0 L584.4,120.5 L585.8,122.0 L587.2,123.5 L588.6,125.0 L590.0,126.5 L591.5,128.0 L592.9,129.5 L594.4,131.0 L595.9,132.5 L597.4,134.0 L599.0,135.5 L600.6,137.0 L602.3,138.5 L603.9,140.0 L605.6,141.5 L607.3,143.0 L609.0,144.5 L610.6,146.0 L612.2,147.5 L613.6,149.0 L615.0,150.5 L616.4,152.0 L617.7,153.5 L619.0,155.0 L620.4,156.5 L621.7,158.0 L623.1,159.5 L624.6,161.0 L626.1,162.5 L627.7,164.0 L629.3,165.5 L631.0,167.0 L632.8,168.5 L634.6,170.0 L636.4,171.5 L638.3,173.0 L640.2,174.5 L642.1,176.0 L644.1,177.5 L646.0,179.0 L648.0,180.5 L650.0,182.0 L652.0,183.5 L654.1,185.0 L656.2,186.5 L658.4,188.0 L660.6,189.5 L662.9,191.0 L665.4,192.5 L667.9,194.0 L670.5,195.5 L673.3,197.0 L676.1,198.5 L678.9,200.0 L681.8,201.5 L684.6,203.0 L687.5,204.5 L690.5,206.0 L693.6,207.5 L696.8,209.0 L700.2,210.5 L703.8,212.0" stroke="#bbbbbb"/>
<path d="M510.6,12.5 L511.6,14.0 L512.6,15.5 L513.6,17.0 L514.6,18.5 L515.5,20.0 L516.5,21.5 L517.5,23.0 L518.5,24.5 L519.4,26.0 L520.4,27.5 L521.3,29.0 L522.3,30.5 L523.2,32.0 L524.2,33.5 L525.1,35.0 L526.1,36.5 L527.0,38.0 L528.0,39.5 L528.9,41.0 L529.9,42.5 L530.8,44.0 L531.8,45.5 L532.7,47.0 L533.7,48.5 L534.7,50.0 L535.6,51.5 L536.6,53.0 L537.5,54.5 L538.5,56.0 L539.5,57.5 L540.5,59.0 L541.4,60.5 L542.4,62.0 L543.4,63.5 L544.4,65.0 L545.4,66.5 L546.4,68.0 L547.4,69.5 L548.4,71.0 L549.5,72.5 L550.5,74.0 L551.5,75.5 L552.6,77.0 L553.6,78.5 L554.7,80.0 L555.8,81.5 L556.9,83.0 L558.0,84.5 L559.1,86.0 L560.3,87.5 L561.5,89.0 L562.6,90.5 L563.8,92.0 L565.0,93.5 L566.1,95.0 L567.3,96.5 L568.4,98.0 L569.6,99.5 L570.7,101.0 L571.8,102.5 L572.9,104.0 L574.0,105.5 L575.1,107.0 L576.2,108.5 L577.3,110.0 L578.4,111.5 L579.6,113.0 L580.8,114.5 L582.0,116.0 L583.2,117.5 L584.5,119.0 L585.8,120.5 L587.1,122.0 L588.5,123.5 L589.9,125.0 L591.3,126.5 L592.7,128.0 L594.2,129.5 L595.7,131.0 L597.1,132.5 L598.6,134.0 L600.1,135.5 L601.7,137.0 L603.3,138.5 L605.0,140.0 L606.7,141.5 L608.3,143.0 L609.9,144.5 L611.5,146.0 L613.0,147.5 L614.5,149.0 L615.8,150.5 L617.2,152.0 L618.5,153.5 L619.8,155.0 L621.2,156.5 L622.5,158.0 L623.9,159.5 L625.3,161.0 L626.8,162.5 L628.4,164.0 L630.0,165.5 L631.7,167.0 L633.5,168.5 L635.3,170.0 L637.1,171.5 L639.0,173.0 L640.9,174.5 L642.8,176.0 L644.7,177.5 L646.6,179.0 L648.5,180.5 L650.5,182.0 L652.5,183.5 L654.6,185.0 L656.7,186.5 L658.8,188.0 L661.1,189.5 L663.4,191.0 L665.8,192.5 L668.3,194.0 L670.9,195.5 L673.7,197.0 L676.4,198.5 L679.3,200.0 L682.1,201.5 L684.9,203.0 L687.8,204.5 L690.7,206.0 L693.7,207.5 L696.9,209.0 L700.3,210.5 L703.8,212.0" stroke="#bbbbbb"/>
<path d="M512.8,12.5 L513.8,14.0 L514.7,15.5 L515.7,17.0 L516.7,18.5 L517.7,20.0 L518.6,21.5 L519.6,23.0 L520.5,24.5 L521.5,26.0 L522.4,27.5 L523.3,29.0 L524.3,30.5 L525.2,32.0 L526.2,33.5 L527.1,35.0 L528.0,36.5 L529.0,38.0 L529.9,39.5 L530.8,41.0 L531.8,42.5 L532.7,44.0 L533.6,45.5 L534.6,47.0 L535.5,48.5 L536.4,50.0 L537.4,51.5 L538.3,53.0 L539.3,54.5 L540.2,56.0 L541.2,57.5 L542.2,59.0 L543.1,60.5 L544.1,62.0 L545.1,63.5 L546.1,65.0 L547.1,66.5 L548.1,68.0 L549.1,69.5 L550.1,71.0 L551.1,72.5 L552.1,74.0 L553.1,75.5 L554.2,77.0 L555.2,78.5 L556.3,80.0 L557.4,81.5 L558.5,83.0 L559.6,84.5 L560.7,86.0 L561.8,87.5 L563.0,89.0 L564.1,90.5 L565.3,92.0 L566.4,93.5 L567.6,95.0 L568.7,96.5 L569.9,98.0 L571.0,99.5 L572.1,101.0 L573.2,102.5 L574.3,104.0 L575.4,105.5 L576.5,107.0 L577.6,108.5 L578.7,110.0 L579.8,111.5 L580.9,113.0 L582.1,114.5 L583.3,116.0 L584.5,117.5 L585.8,119.0 L587.1,120.5 L588.5,122.0 L589.8,123.5 L591.2,125.0 L592.6,126.5 L594.0,128.0 L595.4,129.5 L596.9,131.0 L598.3,132.5 L599.8,134.0 L601.3,135.5 L602.8,137.0 L604.4,138.5 L606.0,140.0 L607.7,141.5 L609.3,143.0 L610.9,144.5 L612.4,146.0 L613.9,147.5 L615.3,149.0 L616.7,150.5 L618.0,152.0 L619.3,153.5 L620.6,155.0 L622.0,156.5 L623.3,158.0 L624.7,159.5 L626.1,161.0 L627.6,162.5 L629.1,164.0 L630.7,165.5 L632.4,167.0 L634.1,168.5 L635.9,170.0 L637.8,171.5 L639.6,173.0 L641.5,174.5 L643.4,176.0 L645.3,177.5 L647.2,179.0 L649.1,180.5 L651.1,182.0 L653.1,183.5 L655.1,185.0 L657.2,186.5 L659.3,188.0 L661.5,189.5 L663.8,191.0 L666.2,192.5 L668.7,194.0 L671.3,195.5 L674.0,197.0 L676.8,198.5 L679.6,200.0 L682.4,201.5 L685.2,203.0 L688.0,204.5 L690.9,206.0 L693.9,207.5 L697.0,209.0 L700.3,210.5 L703.8,212.0" stroke="#bbbbbb"/>
<path d="M515.0,12.5 L515.9,14.0 L516.9,15.5 L517.9,17.0 L518.8,18.5 L519.8,20.0 L520.7,21.5 L521.6,23.0 L522.6,24.5 L523.5,26.0 L524.4,27.5 L525.4,29.0 L526.3,30.5 L527.2,32.0 L528.1,33.5 L529.0,35.0 L529.9,36.5 L530.9,38.0 L531.8,39.5 L532.7,41.0 L533.6,42.5 L534.5,44.0 L535.4,45.5 L536.4,47.0 L537.3,48.5 L538.2,50.0 L539.2,51.5 L540.1,53.0 L541.0,54.5 L542.0,56.0 L542.9,57.5 L543.9,59.0 L544.8,60.5 L545.8,62.0 L546.8,63.5 L547.8,65.0 L548.7,66.5 L549.7,68.0 L550.7,69.5 L551.7,71.0 L552.7,72.5 L553.7,74.0 L554.8,75.5 L555.8,77.0 L556.8,78.5 L557.9,80.0 L558.9,81.5 L560.0,83.0 L561.1,84.5 L562.2,86.0 L563.4,87.5 L564.5,89.0 L565.6,90.5 L566.8,92.0 L567.9,93.5 L569.0,95.0 L570.2,96.5 L571.3,98.0 L572.4,99.5 L573.5,101.0 L574.6,102.5 L575.7,104.0 L576.8,105.5 L577.8,107.0 L578.9,108.5 L580.1,110.0 L581.2,111.5 L582.3,113.0 L583.5,114.5 L584.7,116.0 L585.9,117.5 L587.2,119.0 L588.5,120.5 L589.8,122.0 L591.1,123.5 L592.5,125.0 L593.9,126.5 L595.3,128.0 L596.7,129.5 L598.1,131.0 L599.5,132.5 L601.0,134.0 L602.4,135.5 L603.9,137.0 L605.5,138.5 L607.1,140.0 L608.7,141.5 L610.2,143.0 L611.8,144.5 L613.3,146.0 L614.8,147.5 L616.2,149.0 L617.5,150.5 L618.8,152.0 L620.1,153.5 L621.4,155.0 L622.7,156.5 L624.1,158.0 L625.4,159.5 L626.8,161.0 L628.3,162.5 L629.8,164.0 L631.4,165.5 L633.1,167.0 L634.8,168.5 L636.6,170.0 L638.4,171.5 L640.3,173.0 L642.1,174.5 L644.0,176.0 L645.9,177.5 L647.8,179.0 L649.7,180.5 L651.6,182.0 L653.6,183.5 L655.6,185.0 L657.7,186.5 L659.8,188.0 L662.0,189.5 L664.2,191.0 L666.6,192.5 L669.1,194.0 L671.7,195.5 L674.4,197.0 L677.2,198.5 L680.0,200.0 L682.7,201.5 L685.5,203.0 L688.2,204.5 L691.0,206.0 L694.0,207.5 L697.1,209.0 L700.4,210.5 L703.9,212.0" stroke="#bbbbbb"/>
<path d="M516.3,12.5 L517.3,14.0 L518.3,15.5 L519.2,17.0 L520.2,18.5 L521.1,20.0 L522.0,21.5 L523.0,23.0 L523.9,24.5 L524.8,26.0 L525.7,27.5 L526.6,29.0 L527.6,30.5 L528.5,32.0 L529.4,33.5 L530.3,35.0 L531.2,36.5 L532.1,38.0 L533.0,39.5 L533.9,41.0 L534.8,42.5 L535.7,44.0 L536.6,45.5 L537.5,47.0 L538.4,48.5 L539.4,50.0 L540.3,51.5 L541.2,53.0 L542.1,54.5 L543.1,56.0 L544.0,57.5 L545.0,59.0 L545.9,60.5 L546.9,62.0 L547.8,63.5 L548.8,65.0 L549.8,66.5 L550.8,68.0 L551.8,69.5 L552.8,71.0 L553.8,72.5 L554.8,74.0 L555.8,75.5 L556.8,77.0 L557.8,78.5 L558.9,80.0 L560.0,81.5 L561.0,83.0 L562.1,84.5 L563.2,86.0 L564.4,87.5 L565.5,89.0 L566.6,90.5 L567.7,92.0 L568.9,93.5 L570.0,95.0 L571.1,96.5 L572.2,98.0 L573.3,99.5 L574.4,101.0 L575.5,102.5 L576.6,104.0 L577.6,105.5 L578.7,107.0 L579.8,108.5 L580.9,110.0 L582.1,111.5 L583.2,113.0 L584.4,114.5 L585.5,116.0 L586.8,117.5 L588.0,119.0 L589.3,120.5 L590.6,122.0 L592.0,123.5 L593.3,125.0 L594.7,126.5 L596.1,128.0 L597.5,129.5 L598.9,131.0 L600.3,132.5 L601.7,134.0 L603.2,135.5 L604.7,137.0 L606.2,138.5 L607.7,140.0 L609.3,141.5 L610.9,143.0 L612.4,144.5 L613.9,146.0 L615.3,147.5 L616.7,149.0 L618.1,150.5 L619.4,152.0 L620.7,153.5 L622.0,155.0 L623.3,156.5 L624.6,158.0 L625.9,159.5 L627.3,161.0 L628.8,162.5 L630.3,164.0 L631.9,165.5 L633.6,167.0 L635.3,168.5 L637.0,170.0 L638.8,171.5 L640.7,173.0 L642.5,174.5 L644.4,176.0 L646.3,177.5 L648.2,179.0 L650.1,180.5 L652.0,182.0 L653.9,183.5 L655.9,185.0 L658.0,186.5 L660.1,188.0 L662.2,189.5 L664.5,191.0 L666.9,192.5 L669.4,194.0 L672.0,195.5 L674.7,197.0 L677.4,198.5 L680.2,200.0 L682.9,201.5 L685.6,203.0 L688.4,204.5 L691.2,206.0 L694.1,207.5 L697.2,209.0 L700.4,210.5 L703.9,212.0" stroke="#959595"/>
<path d="M517.6,12.5 L518.5,14.0 L519.5,15.5 L520.4,17.0 L521.4,18.5 L522.3,20.0 L523.2,21.5 L524.1,23.0 L525.1,24.5 L526.0,26.0 L526.9,27.5 L527.8,29.0 L528.7,30.5 L529.6,32.0 L530.5,33.5 L531.4,35.0 L532.3,36.5 L533.2,38.0 L534.1,39.5 L535.0,41.0 L535.9,42.5 L536.8,44.0 L537.7,45.5 L538.6,47.0 L539.5,48.5 L540.4,50.0 L541.3,51.5 L542.2,53.0 L543.1,54.5 L544.1,56.0 L545.0,57.5 L545.9,59.0 L546.9,60.5 L547.8,62.0 L548.8,63.5 L549.8,65.0 L550.7,66.5 L551.7,68.0 L552.7,69.5 L553.7,71.0 L554.7,72.5 L555.7,74.0 L556.7,75.5 L557.7,77.0 L558.8,78.5 L559.8,80.0 L560.9,81.5 L561.9,83.0 L563.0,84.5 L564.1,86.0 L565.2,87.5 L566.3,89.0 L567.5,90.5 L568.6,92.0 L569.7,93.5 L570.8,95.0 L571.9,96.5 L573.0,98.0 L574.1,99.5 L575.2,101.0 L576.3,102.5 L577.4,104.0 L578.4,105.5 L579.5,107.0 L580.6,108.5 L581.7,110.0 L582.8,111.5 L584.0,113.0 L585.1,114.5 L586.3,116.0 L587.5,117.5 L588.8,119.0 L590.1,120.5 L591.4,122.0 L592.7,123.5 L594.1,125.0 L595.4,126.5 L596.8,128.0 L598.2,129.5 L599.6,131.0 L601.0,132.5 L602.4,134.0 L603.8,135.5 L605.3,137.0 L606.8,138.5 L608.3,140.0 L609.9,141.5 L611.4,143.0 L612.9,144.5 L614.4,146.0 L615.8,147.5 L617.2,149.0 L618.5,150.5 L619.8,152.0 L621.1,153.5 L622.4,155.0 L623.7,156.5 L625.0,158.0 L626.4,159.5 L627.8,161.0 L629.2,162.5 L630.7,164.0 L632.3,165.5 L634.0,167.0 L635.7,168.5 L637.4,170.0 L639.2,171.5 L641.0,173.0 L642.9,174.5 L644.7,176.0 L646.6,177.5 L648.5,179.0 L650.4,180.5 L652.3,182.0 L654.2,183.5 L656.2,185.0 L658.2,186.5 L660.3,188.0 L662.5,189.5 L664.7,191.0 L667.1,192.5 L669.6,194.0 L672.2,195.5 L674.9,197.0 L677.6,198.5 L680.4,200.0 L683.1,201.5 L685.8,203.0 L688.5,204.5 L691.3,206.0 L694.2,207.5 L697.2,209.0 L700.5,210.5 L703.9,212.0" stroke="#959595"/>
<path d="M518.8,12.5 L519.8,14.0 L520.7,15.5 L521.6,17.0 L522.6,18.5 L523.5,20.0 L524.4,21.5 L525.3,23.0 L526.2,24.5 L527.1,26.0 L528.0,27.5 L528.9,29.0 L529.8,30.5 L530.7,32.0 L531.6,33.5 L532.5,35.0 L533.4,36.5 L534.3,38.0 L535.1,39.5 L536.0,41.0 L536.9,42.5 L537.8,44.0 L538.7,45.5 L539.6,47.0 L540.5,48.5 L541.4,50.0 L542.3,51.5 L543.2,53.0 L544.1,54.5 L545.0,56.0 L546.0,57.5 L546.9,59.0 L547.8,60.5 L548.8,62.0 L549.7,63.5 L550.7,65.0 L551.7,66.5 L552.6,68.0 L553.6,69.5 L554.6,71.0 L555.6,72.5 L556.6,74.0 L557.6,75.5 L558.6,77.0 L559.7,78.5 L560.7,80.0 L561.8,81.5 L562.8,83.0 L563.9,84.5 L565.0,86.0 L566.1,87.5 L567.2,89.0 L568.3,90.5 L569.4,92.0 L570.5,93.5 L571.6,95.0 L572.7,96.5 L573.8,98.0 L574.9,99.5 L576.0,101.0 L577.1,102.5 L578.1,104.0 L579.2,105.5 L580.3,107.0 L581.4,108.5 L582.5,110.0 L583.6,111.5 L584.7,113.0 L585.9,114.5 L587.1,116.0 L588.3,117.5 L589.6,119.0 L590.8,120.5 L592.1,122.0 L593.5,123.5 L594.8,125.0 L596.2,126.5 L597.5,128.0 L598.9,129.5 L600.3,131.0 L601.7,132.5 L603.1,134.0 L604.5,135.5 L605.9,137.0 L607.4,138.5 L608.9,140.0 L610.4,141.5 L612.0,143.0 L613.4,144.5 L614.9,146.0 L616.3,147.5 L617.7,149.0 L619.0,150.5 L620.3,152.0 L621.6,153.5 L622.9,155.0 L624.1,156.5 L625.5,158.0 L626.8,159.5 L628.2,161.0 L629.6,162.5 L631.1,164.0 L632.7,165.5 L634.3,167.0 L636.0,168.5 L637.8,170.0 L639.6,171.5 L641.4,173.0 L643.2,174.5 L645.1,176.0 L647.0,177.5 L648.8,179.0 L650.7,180.5 L652.6,182.0 L654.5,183.5 L656.5,185.0 L658.5,186.5 L660.6,188.0 L662.8,189.5 L665.0,191.0 L667.3,192.5 L669.8,194.0 L672.4,195.5 L675.1,197.0 L677.9,198.5 L680.6,200.0 L683.3,201.5 L685.9,203.0 L688.6,204.5 L691.4,206.0 L694.2,207.5 L697.3,209.0 L700.5,210.5 L703.9,212.0" stroke="#959595"/>
<path d="M520.1,12.5 L521.0,14.0 L521.9,15.5 L522.9,17.0 L523.8,18.5 L524.7,20.0 L525.6,21.5 L526.5,23.0 L527.4,24.5 L528.3,26.0 L529.2,27.5 L530.1,29.0 L530.9,30.5 L531.8,32.0 L532.7,33.5 L533.6,35.0 L534.5,36.5 L535.3,38.0 L536.2,39.5 L537.1,41.0 L538.0,42.5 L538.9,44.0 L539.7,45.5 L540.6,47.0 L541.5,48.5 L542.4,50.0 L543.3,51.5 L544.2,53.0 L545.1,54.5 L546.0,56.0 L546.9,57.5 L547.9,59.0 L548.8,60.5 L549.7,62.0 L550.7,63.5 L551.6,65.0 L552.6,66.5 L553.6,68.0 L554.5,69.5 L555.5,71.0 L556.5,72.5 L557.5,74.0 L558.5,75.5 L559.5,77.0 L560.6,78.5 L561.6,80.0 L562.7,81.5 L563.7,83.0 L564.8,84.5 L565.9,86.0 L567.0,87.5 L568.1,89.0 L569.2,90.5 L570.3,92.0 L571.4,93.5 L572.5,95.0 L573.6,96.5 L574.6,98.0 L575.7,99.5 L576.8,101.0 L577.9,102.5 L578.9,104.0 L580.0,105.5 L581.1,107.0 L582.2,108.5 L583.3,110.0 L584.4,111.5 L585.5,113.0 L586.7,114.5 L587.9,116.0 L589.1,117.5 L590.3,119.0 L591.6,120.5 L592.9,122.0 L594.2,123.5 L595.5,125.0 L596.9,126.5 L598.2,128.0 L599.6,129.5 L601.0,131.0 L602.3,132.5 L603.7,134.0 L605.1,135.5 L606.6,137.0 L608.0,138.5 L609.5,140.0 L611.0,141.5 L612.5,143.0 L614.0,144.5 L615.4,146.0 L616.8,147.5 L618.2,149.0 L619.5,150.5 L620.8,152.0 L622.0,153.5 L623.3,155.0 L624.6,156.5 L625.9,158.0 L627.2,159.5 L628.6,161.0 L630.1,162.5 L631.6,164.0 L633.1,165.5 L634.7,167.0 L636.4,168.5 L638.2,170.0 L639.9,171.5 L641.8,173.0 L643.6,174.5 L645.4,176.0 L647.3,177.5 L649.2,179.0 L651.0,180.5 L652.9,182.0 L654.8,183.5 L656.8,185.0 L658.8,186.5 L660.9,188.0 L663.0,189.5 L665.2,191.0 L667.6,192.5 L670.1,194.0 L672.7,195.5 L675.3,197.0 L678.1,198.5 L680.8,200.0 L683.5,201.5 L686.1,203.0 L688.7,204.5 L691.5,206.0 L694.3,207.5 L697.3,209.0 L700.6,210.5 L704.0,212.0" stroke="#959595"/>
<path d="M521.3,12.5 L522.2,14.0 L523.1,15.5 L524.1,17.0 L525.0,18.5 L525.9,20.0 L526.8,21.5 L527.7,23.0 L528.6,24.5 L529.4,26.0 L530.3,27.5 L531.2,29.0 L532.1,30.5 L532.9,32.0 L533.8,33.5 L534.7,35.0 L535.5,36.5 L536.4,38.0 L537.3,39.5 L538.2,41.0 L539.0,42.5 L539.9,44.0 L540.8,45.5 L541.7,47.0 L542.5,48.5 L543.4,50.0 L544.3,51.5 L545.2,53.0 L546.1,54.5 L547.0,56.0 L547.9,57.5 L548.8,59.0 L549.8,60.5 L550.7,62.0 L551.6,63.5 L552.6,65.0 L553.5,66.5 L554.5,68.0 L555.5,69.5 L556.5,71.0 L557.4,72.5 L558.4,74.0 L559.4,75.5 L560.5,77.0 L561.5,78.5 L562.5,80.0 L563.6,81.5 L564.6,83.0 L565.7,84.5 L566.8,86.0 L567.8,87.5 L568.9,89.0 L570.0,90.5 L571.1,92.0 L572.2,93.5 L573.3,95.0 L574.4,96.5 L575.5,98.0 L576.5,99.5 L577.6,101.0 L578.7,102.5 L579.7,104.0 L580.8,105.5 L581.9,107.0 L583.0,108.5 L584.1,110.0 L585.2,111.5 L586.3,113.0 L587.5,114.5 L588.6,116.0 L589.8,117.5 L591.1,119.0 L592.3,120.5 L593.6,122.0 L594.9,123.5 L596.3,125.0 L597.6,126.5 L599.0,128.0 L600.3,129.5 L601.7,131.0 L603.0,132.5 L604.4,134.0 L605.8,135.5 L607.2,137.0 L608.6,138.5 L610.1,140.0 L611.6,141.5 L613.0,143.0 L614.5,144.5 L615.9,146.0 L617.3,147.5 L618.6,149.0 L619.9,150.5 L621.2,152.0 L622.5,153.5 L623.8,155.0 L625.0,156.5 L626.3,158.0 L627.7,159.5 L629.0,161.0 L630.5,162.5 L632.0,164.0 L633.5,165.5 L635.1,167.0 L636.8,168.5 L638.6,170.0 L640.3,171.5 L642.1,173.0 L643.9,174.5 L645.8,176.0 L647.6,177.5 L649.5,179.0 L651.4,180.5 L653.2,182.0 L655.1,183.5 L657.1,185.0 L659.1,186.5 L661.1,188.0 L663.3,189.5 L665.5,191.0 L667.8,192.5 L670.3,194.0 L672.9,195.5 L675.6,197.0 L678.3,198.5 L681.0,200.0 L683.6,201.5 L686.3,203.0 L688.9,204.5 L691.6,206.0 L694.4,207.5 L697.4,209.0 L700.6,210.5 L704.0,212.0" stroke="#959595"/>
<path d="M522.5,12.5 L523.5,14.0 L524.4,15.5 L525.3,17.0 L526.2,18.5 L527.1,20.0 L528.0,21.5 L528.8,23.0 L529.7,24.5 L530.6,26.0 L531.5,27.5 L532.3,29.0 L533.2,30.5 L534.1,32.0 L534.9,33.5 L535.8,35.0 L536.6,36.5 L537.5,38.0 L538.4,39.5 L539.2,41.0 L540.1,42.5 L540.9,44.0 L541.8,45.5 L542.7,47.0 L543.6,48.5 L544.4,50.0 L545.3,51.5 L546.2,53.0 L547.1,54.5 L548.0,56.0 L548.9,57.5 L549.8,59.0 L550.7,60.5 L551.6,62.0 L552.6,63.5 L553.5,65.0 L554.5,66.5 L555.4,68.0 L556.4,69.5 L557.4,71.0 L558.4,72.5 L559.4,74.0 L560.4,75.5 L561.4,77.0 L562.4,78.5 L563.4,80.0 L564.5,81.5 L565.5,83.0 L566.6,84.5 L567.6,86.0 L568.7,87.5 L569.8,89.0 L570.9,90.5 L572.0,92.0 L573.0,93.5 L574.1,95.0 L575.2,96.5 L576.3,98.0 L577.3,99.5 L578.4,101.0 L579.5,102.5 L580.5,104.0 L581.6,105.5 L582.7,107.0 L583.7,108.5 L584.8,110.0 L586.0,111.5 L587.1,113.0 L588.2,114.5 L589.4,116.0 L590.6,117.5 L591.8,119.0 L593.1,120.5 L594.4,122.0 L595.7,123.5 L597.0,125.0 L598.3,126.5 L599.7,128.0 L601.0,129.5 L602.4,131.0 L603.7,132.5 L605.1,134.0 L606.4,135.5 L607.8,137.0 L609.3,138.5 L610.7,140.0 L612.2,141.5 L613.6,143.0 L615.0,144.5 L616.4,146.0 L617.8,147.5 L619.1,149.0 L620.4,150.5 L621.7,152.0 L623.0,153.5 L624.2,155.0 L625.5,156.5 L626.8,158.0 L628.1,159.5 L629.5,161.0 L630.9,162.5 L632.4,164.0 L633.9,165.5 L635.5,167.0 L637.2,168.5 L638.9,170.0 L640.7,171.5 L642.5,173.0 L644.3,174.5 L646.1,176.0 L648.0,177.5 L649.8,179.0 L651.7,180.5 L653.6,182.0 L655.4,183.5 L657.4,185.0 L659.4,186.5 L661.4,188.0 L663.5,189.5 L665.7,191.0 L668.1,192.5 L670.5,194.0 L673.1,195.5 L675.8,197.0 L678.5,198.5 L681.2,200.0 L683.8,201.5 L686.4,203.0 L689.0,204.5 L691.7,206.0 L694.5,207.5 L697.4,209.0 L700.6,210.5 L704.0,212.0" stroke="#959595"/>
<path d="M523.8,12.5 L524.7,14.0 L525.6,15.5 L526.5,17.0 L527.4,18.5 L528.3,20.0 L529.1,21.5 L530.0,23.0 L530.9,24.5 L531.8,26.0 L532.6,27.5 L533.5,29.0 L534.3,30.5 L535.2,32.0 L536.0,33.5 L536.9,35.0 L537.7,36.5 L538.6,38.0 L539.4,39.5 L540.3,41.0 L541.1,42.5 L542.0,44.0 L542.8,45.5 L543.7,47.0 L544.6,48.5 L545.4,50.0 L546.3,51.5 L547.2,53.0 L548.1,54.5 L549.0,56.0 L549.9,57.5 L550.8,59.0 L551.7,60.5 L552.6,62.0 L553.5,63.5 L554.5,65.0 L555.4,66.5 L556.4,68.0 L557.3,69.5 L558.3,71.0 L559.3,72.5 L560.3,74.0 L561.3,75.5 L562.3,77.0 L563.3,78.5 L564.3,80.0 L565.4,81.5 L566.4,83.0 L567.5,84.5 L568.5,86.0 L569.6,87.5 L570.7,89.0 L571.7,90.5 L572.8,92.0 L573.9,93.5 L574.9,95.0 L576.0,96.5 L577.1,98.0 L578.1,99.5 L579.2,101.0 L580.3,102.5 L581.3,104.0 L582.4,105.5 L583.5,107.0 L584.5,108.5 L585.6,110.0 L586.7,111.5 L587.9,113.0 L589.0,114.5 L590.2,116.0 L591.4,117.5 L592.6,119.0 L593.9,120.5 L595.1,122.0 L596.4,123.5 L597.8,125.0 L599.1,126.5 L600.4,128.0 L601.7,129.5 L603.1,131.0 L604.4,132.5 L605.7,134.0 L607.1,135.5 L608.5,137.0 L609.9,138.5 L611.3,140.0 L612.7,141.5 L614.1,143.0 L615.6,144.5 L617.0,146.0 L618.3,147.5 L619.6,149.0 L620.9,150.5 L622.2,152.0 L623.4,153.5 L624.7,155.0 L625.9,156.5 L627.2,158.0 L628.5,159.5 L629.9,161.0 L631.3,162.5 L632.8,164.0 L634.3,165.5 L635.9,167.0 L637.6,168.5 L639.3,170.0 L641.1,171.5 L642.9,173.0 L644.7,174.5 L646.5,176.0 L648.3,177.5 L650.2,179.0 L652.0,180.5 L653.9,182.0 L655.8,183.5 L657.7,185.0 L659.6,186.5 L661.7,188.0 L663.8,189.5 L666.0,191.0 L668.3,192.5 L670.8,194.0 L673.3,195.5 L676.0,197.0 L678.7,198.5 L681.4,200.0 L684.0,201.5 L686.6,203.0 L689.1,204.5 L691.8,206.0 L694.5,207.5 L697.5,209.0 L700.7,210.5 L704.0,212.0" stroke="#959595"/>
<path d="M525.0,12.5 L525.9,14.0 L526.8,15.5 L527.7,17.0 L528.6,18.5 L529.5,20.0 L530.3,21.5 L531.2,23.0 L532.1,24.5 L532.9,26.0 L533.8,27.5 L534.6,29.0 L535.5,30.5 L536.3,32.0 L537.1,33.5 L538.0,35.0 L538.8,36.5 L539.7,38.0 L540.5,39.5 L541.4,41.0 L542.2,42.5 L543.0,44.0 L543.9,45.5 L544.7,47.0 L545.6,48.5 L546.5,50.0 L547.3,51.5 L548.2,53.0 L549.1,54.5 L549.9,56.0 L550.8,57.5 L551.7,59.0 L552.6,60.5 L553.6,62.0 L554.5,63.5 L555.4,65.0 L556.4,66.5 L557.3,68.0 L558.3,69.5 L559.2,71.0 L560.2,72.5 L561.2,74.0 L562.2,75.5 L563.2,77.0 L564.2,78.5 L565.2,80.0 L566.3,81.5 L567.3,83.0 L568.3,84.5 L569.4,86.0 L570.5,87.5 L571.5,89.0 L572.6,90.5 L573.6,92.0 L574.7,93.5 L575.8,95.0 L576.8,96.5 L577.9,98.0 L578.9,99.5 L580.0,101.0 L581.1,102.5 L582.1,104.0 L583.2,105.5 L584.2,107.0 L585.3,108.5 L586.4,110.0 L587.5,111.5 L588.6,113.0 L589.8,114.5 L590.9,116.0 L592.1,117.5 L593.4,119.0 L594.6,120.5 L595.9,122.0 L597.2,123.5 L598.5,125.0 L599.8,126.5 L601.1,128.0 L602.4,129.5 L603.7,131.0 L605.1,132.5 L606.4,134.0 L607.7,135.5 L609.1,137.0 L610.5,138.5 L611.9,140.0 L613.3,141.5 L614.7,143.0 L616.1,144.5 L617.5,146.0 L618.8,147.5 L620.1,149.0 L621.4,150.5 L622.6,152.0 L623.9,153.5 L625.1,155.0 L626.4,156.5 L627.7,158.0 L629.0,159.5 L630.3,161.0 L631.7,162.5 L633.2,164.0 L634.7,165.5 L636.3,167.0 L638.0,168.5 L639.7,170.0 L641.4,171.5 L643.2,173.0 L645.0,174.5 L646.8,176.0 L648.7,177.5 L650.5,179.0 L652.3,180.5 L654.2,182.0 L656.1,183.5 L658.0,185.0 L659.9,186.5 L661.9,188.0 L664.0,189.5 L666.2,191.0 L668.5,192.5 L671.0,194.0 L673.6,195.5 L676.2,197.0 L678.9,198.5 L681.6,200.0 L684.2,201.5 L686.7,203.0 L689.3,204.5 L691.9,206.0 L694.6,207.5 L697.5,209.0 L700.7,210.5 L704.1,212.0" stroke="#959595"/>
<path d="M526.3,12.5 L527.1,14.0 L528.0,15.5 L528.9,17.0 L529.8,18.5 L530.7,20.0 L531.5,21.5 L532.4,23.0 L533.2,24.5 L534.1,26.0 L534.9,27.5 L535.8,29.0 L536.6,30.5 L537.4,32.0 L538.3,33.5 L539.1,35.0 L539.9,36.5 L540.8,38.0 L541.6,39.5 L542.4,41.0 L543.3,42.5 L544.1,44.0 L544.9,45.5 L545.8,47.0 L546.6,48.5 L547.5,50.0 L548.3,51.5 L549.2,53.0 L550.1,54.5 L550.9,56.0 L551.8,57.5 L552.7,59.0 L553.6,60.5 L554.5,62.0 L555.4,63.5 L556.4,65.0 L557.3,66.5 L558.2,68.0 L559.2,69.5 L560.2,71.0 L561.1,72.5 L562.1,74.0 L563.1,75.5 L564.1,77.0 L565.1,78.5 L566.1,80.0 L567.2,81.5 L568.2,83.0 L569.2,84.5 L570.3,86.0 L571.3,87.5 L572.4,89.0 L573.4,90.5 L574.5,92.0 L575.5,93.5 L576.6,95.0 L577.6,96.5 L578.7,98.0 L579.7,99.5 L580.8,101.0 L581.8,102.5 L582.9,104.0 L584.0,105.5 L585.0,107.0 L586.1,108.5 L587.2,110.0 L588.3,111.5 L589.4,113.0 L590.6,114.5 L591.7,116.0 L592.9,117.5 L594.1,119.0 L595.4,120.5 L596.7,122.0 L597.9,123.5 L599.2,125.0 L600.5,126.5 L601.8,128.0 L603.1,129.5 L604.4,131.0 L605.8,132.5 L607.1,134.0 L608.4,135.5 L609.7,137.0 L611.1,138.5 L612.5,140.0 L613.9,141.5 L615.2,143.0 L616.6,144.5 L618.0,146.0 L619.3,147.5 L620.6,149.0 L621.8,150.5 L623.1,152.0 L624.3,153.5 L625.6,155.0 L626.8,156.5 L628.1,158.0 L629.4,159.5 L630.8,161.0 L632.2,162.5 L633.6,164.0 L635.1,165.5 L636.7,167.0 L638.4,168.5 L640.1,170.0 L641.8,171.5 L643.6,173.0 L645.4,174.5 L647.2,176.0 L649.0,177.5 L650.8,179.0 L652.7,180.5 L654.5,182.0 L656.4,183.5 L658.2,185.0 L660.2,186.5 L662.2,188.0 L664.3,189.5 L666.5,191.0 L668.8,192.5 L671.2,194.0 L673.8,195.5 L676.4,197.0 L679.1,198.5 L681.8,200.0 L684.4,201.5 L686.9,203.0 L689.4,204.5 L692.0,206.0 L694.7,207.5 L697.6,209.0 L700.7,210.5 L704.1,212.0" stroke="#959595"/>
<path d="M527.5,12.5 L528.4,14.0 L529.3,15.5 L530.1,17.0 L531.0,18.5 L531.9,20.0 L532.7,21.5 L533.6,23.0 L534.4,24.5 L535.2,26.0 L536.1,27.5 L536.9,29.0 L537.7,30.5 L538.5,32.0 L539.4,33.5 L540.2,35.0 L541.0,36.5 L541.8,38.0 L542.7,39.5 L543.5,41.0 L544.3,42.5 L545.1,44.0 L546.0,45.5 L546.8,47.0 L547.6,48.5 L548.5,50.0 L549.3,51.5 L550.2,53.0 L551.0,54.5 L551.9,56.0 L552.8,57.5 L553.7,59.0 L554.6,60.5 L555.5,62.0 L556.4,63.5 L557.3,65.0 L558.2,66.5 L559.2,68.0 L560.1,69.5 L561.1,71.0 L562.1,72.5 L563.0,74.0 L564.0,75.5 L565.0,77.0 L566.0,78.5 L567.0,80.0 L568.1,81.5 L569.1,83.0 L570.1,84.5 L571.2,86.0 L572.2,87.5 L573.2,89.0 L574.3,90.5 L575.3,92.0 L576.4,93.5 L577.4,95.0 L578.5,96.5 L579.5,98.0 L580.6,99.5 L581.6,101.0 L582.6,102.5 L583.7,104.0 L584.8,105.5 L585.8,107.0 L586.9,108.5 L588.0,110.0 L589.1,111.5 L590.2,113.0 L591.3,114.5 L592.5,116.0 L593.7,117.5 L594.9,119.0 L596.1,120.5 L597.4,122.0 L598.7,123.5 L600.0,125.0 L601.3,126.5 L602.6,128.0 L603.8,129.5 L605.1,131.0 L606.4,132.5 L607.7,134.0 L609.0,135.5 L610.4,137.0 L611.7,138.5 L613.1,140.0 L614.4,141.5 L615.8,143.0 L617.1,144.5 L618.5,146.0 L619.8,147.5 L621.1,149.0 L622.3,150.5 L623.6,152.0 L624.8,153.5 L626.0,155.0 L627.3,156.5 L628.6,158.0 L629.9,159.5 L631.2,161.0 L632.6,162.5 L634.0,164.0 L635.5,165.5 L637.1,167.0 L638.8,168.5 L640.5,170.0 L642.2,171.5 L644.0,173.0 L645.7,174.5 L647.5,176.0 L649.4,177.5 L651.2,179.0 L653.0,180.5 L654.8,182.0 L656.7,183.5 L658.5,185.0 L660.5,186.5 L662.5,188.0 L664.5,189.5 L666.7,191.0 L669.0,192.5 L671.5,194.0 L674.0,195.5 L676.7,197.0 L679.3,198.5 L682.0,200.0 L684.5,201.5 L687.0,203.0 L689.5,204.5 L692.1,206.0 L694.7,207.5 L697.6,209.0 L700.8,210.5 L704.1,212.0" stroke="#959595"/>
<path d="M528.7,12.5 L529.6,14.0 L530.5,15.5 L531.3,17.0 L532.2,18.5 L533.0,20.0 L533.9,21.5 L534.7,23.0 L535.6,24.5 L536.4,26.0 L537.2,27.5 L538.0,29.0 L538.9,30.5 L539.7,32.0 L540.5,33.5 L541.3,35.0 L542.1,36.5 L542.9,38.0 L543.7,39.5 L544.5,41.0 L545.4,42.5 L546.2,44.0 L547.0,45.5 L547.8,47.0 L548.7,48.5 L549.5,50.0 L550.3,51.5 L551.2,53.0 L552.0,54.5 L552.9,56.0 L553.8,57.5 L554.6,59.0 L555.5,60.5 L556.4,62.0 L557.3,63.5 L558.2,65.0 L559.2,66.5 L560.1,68.0 L561.1,69.5 L562.0,71.0 L563.0,72.5 L564.0,74.0 L564.9,75.5 L565.9,77.0 L566.9,78.5 L567.9,80.0 L569.0,81.5 L570.0,83.0 L571.0,84.5 L572.0,86.0 L573.1,87.5 L574.1,89.0 L575.1,90.5 L576.2,92.0 L577.2,93.5 L578.2,95.0 L579.3,96.5 L580.3,98.0 L581.4,99.5 L582.4,101.0 L583.4,102.5 L584.5,104.0 L585.5,105.5 L586.6,107.0 L587.7,108.5 L588.8,110.0 L589.9,111.5 L591.0,113.0 L592.1,114.5 L593.3,116.0 L594.4,117.5 L595.7,119.0 L596.9,120.5 L598.2,122.0 L599.4,123.5 L600.7,125.0 L602.0,126.5 L603.3,128.0 L604.6,129.5 L605.8,131.0 L607.1,132.5 L608.4,134.0 L609.7,135.5 L611.0,137.0 L612.3,138.5 L613.7,140.0 L615.0,141.5 L616.3,143.0 L617.7,144.5 L619.0,146.0 L620.3,147.5 L621.6,149.0 L622.8,150.5 L624.0,152.0 L625.3,153.5 L626.5,155.0 L627.7,156.5 L629.0,158.0 L630.3,159.5 L631.6,161.0 L633.0,162.5 L634.5,164.0 L636.0,165.5 L637.5,167.0 L639.2,168.5 L640.8,170.0 L642.6,171.5 L644.3,173.0 L646.1,174.5 L647.9,176.0 L649.7,177.5 L651.5,179.0 L653.3,180.5 L655.1,182.0 L657.0,183.5 L658.8,185.0 L660.7,186.5 L662.7,188.0 L664.8,189.5 L666.9,191.0 L669.2,192.5 L671.7,194.0 L674.3,195.5 L676.9,197.0 L679.6,198.5 L682.2,200.0 L684.7,201.5 L687.2,203.0 L689.6,204.5 L692.2,206.0 L694.8,207.5 L697.7,209.0 L700.8,210.5 L704.1,212.0" stroke="#959595"/>
<path d="M530.0,12.5 L530.8,14.0 L531.7,15.5 L532.6,17.0 L533.4,18.5 L534.2,20.0 L535.1,21.5 L535.9,23.0 L536.7,24.5 L537.5,26.0 L538.4,27.5 L539.2,29.0 L540.0,30.5 L540.8,32.0 L541.6,33.5 L542.4,35.0 L543.2,36.5 L544.0,38.0 L544.8,39.5 L545.6,41.0 L546.4,42.5 L547.2,44.0 L548.0,45.5 L548.9,47.0 L549.7,48.5 L550.5,50.0 L551.3,51.5 L552.2,53.0 L553.0,54.5 L553.9,56.0 L554.7,57.5 L555.6,59.0 L556.5,60.5 L557.4,62.0 L558.3,63.5 L559.2,65.0 L560.1,66.5 L561.0,68.0 L562.0,69.5 L562.9,71.0 L563.9,72.5 L564.9,74.0 L565.9,75.5 L566.8,77.0 L567.8,78.5 L568.8,80.0 L569.9,81.5 L570.9,83.0 L571.9,84.5 L572.9,86.0 L573.9,87.5 L575.0,89.0 L576.0,90.5 L577.0,92.0 L578.0,93.5 L579.1,95.0 L580.1,96.5 L581.1,98.0 L582.2,99.5 L583.2,101.0 L584.2,102.5 L585.3,104.0 L586.3,105.5 L587.4,107.0 L588.5,108.5 L589.5,110.0 L590.6,111.5 L591.7,113.0 L592.9,114.5 L594.0,116.0 L595.2,117.5 L596.4,119.0 L597.7,120.5 L598.9,122.0 L600.2,123.5 L601.4,125.0 L602.7,126.5 L604.0,128.0 L605.3,129.5 L606.5,131.0 L607.8,132.5 L609.1,134.0 L610.4,135.5 L611.6,137.0 L612.9,138.5 L614.3,140.0 L615.6,141.5 L616.9,143.0 L618.2,144.5 L619.5,146.0 L620.8,147.5 L622.0,149.0 L623.3,150.5 L624.5,152.0 L625.7,153.5 L626.9,155.0 L628.2,156.5 L629.4,158.0 L630.7,159.5 L632.1,161.0 L633.4,162.5 L634.9,164.0 L636.4,165.5 L637.9,167.0 L639.5,168.5 L641.2,170.0 L642.9,171.5 L644.7,173.0 L646.5,174.5 L648.2,176.0 L650.0,177.5 L651.8,179.0 L653.6,180.5 L655.4,182.0 L657.3,183.5 L659.1,185.0 L661.0,186.5 L663.0,188.0 L665.0,189.5 L667.2,191.0 L669.5,192.5 L671.9,194.0 L674.5,195.5 L677.1,197.0 L679.8,198.5 L682.4,200.0 L684.9,201.5 L687.3,203.0 L689.8,204.5 L692.3,206.0 L694.9,207.5 L697.7,209.0 L700.8,210.5 L704.1,212.0" stroke="#959595"/>
<path d="M531.2,12.5 L532.1,14.0 L532.9,15.5 L533.8,17.0 L534.6,18.5 L535.4,20.0 L536.3,21.5 L537.1,23.0 L537.9,24.5 L538.7,26.0 L539.5,27.5 L540.3,29.0 L541.1,30.5 L541.9,32.0 L542.7,33.5 L543.5,35.0 L544.3,36.5 L545.1,38.0 L545.9,39.5 L546.7,41.0 L547.5,42.5 L548.3,44.0 L549.1,45.5 L549.9,47.0 L550.7,48.5 L551.5,50.0 L552.3,51.5 L553.2,53.0 L554.0,54.5 L554.9,56.0 L555.7,57.5 L556.6,59.0 L557.4,60.5 L558.3,62.0 L559.2,63.5 L560.1,65.0 L561.0,66.5 L562.0,68.0 L562.9,69.5 L563.9,71.0 L564.8,72.5 L565.8,74.0 L566.8,75.5 L567.8,77.0 L568.8,78.5 L569.8,80.0 L570.8,81.5 L571.8,83.0 L572.8,84.5 L573.8,86.0 L574.8,87.5 L575.8,89.0 L576.8,90.5 L577.9,92.0 L578.9,93.5 L579.9,95.0 L580.9,96.5 L581.9,98.0 L583.0,99.5 L584.0,101.0 L585.0,102.5 L586.1,104.0 L587.1,105.5 L588.2,107.0 L589.2,108.5 L590.3,110.0 L591.4,111.5 L592.5,113.0 L593.7,114.5 L594.8,116.0 L596.0,117.5 L597.2,119.0 L598.4,120.5 L599.7,122.0 L600.9,123.5 L602.2,125.0 L603.4,126.5 L604.7,128.0 L606.0,129.5 L607.2,131.0 L608.5,132.5 L609.7,134.0 L611.0,135.5 L612.3,137.0 L613.6,138.5 L614.8,140.0 L616.1,141.5 L617.4,143.0 L618.7,144.5 L620.0,146.0 L621.3,147.5 L622.5,149.0 L623.7,150.5 L625.0,152.0 L626.2,153.5 L627.4,155.0 L628.6,156.5 L629.9,158.0 L631.2,159.5 L632.5,161.0 L633.9,162.5 L635.3,164.0 L636.8,165.5 L638.3,167.0 L639.9,168.5 L641.6,170.0 L643.3,171.5 L645.0,173.0 L646.8,174.5 L648.6,176.0 L650.4,177.5 L652.2,179.0 L654.0,180.5 L655.8,182.0 L657.6,183.5 L659.4,185.0 L661.3,186.5 L663.3,188.0 L665.3,189.5 L667.4,191.0 L669.7,192.5 L672.1,194.0 L674.7,195.5 L677.3,197.0 L680.0,198.5 L682.6,200.0 L685.1,201.5 L687.5,203.0 L689.9,204.5 L692.4,206.0 L695.0,207.5 L697.8,209.0 L700.9,210.5 L704.2,212.0" stroke="#959595"/>
<path d="M532.5,12.5 L533.3,14.0 L534.1,15.5 L535.0,17.0 L535.8,18.5 L536.6,20.0 L537.4,21.5 L538.3,23.0 L539.1,24.5 L539.9,26.0 L540.7,27.5 L541.5,29.0 L542.2,30.5 L543.0,32.0 L543.8,33.5 L544.6,35.0 L545.4,36.5 L546.2,38.0 L547.0,39.5 L547.7,41.0 L548.5,42.5 L549.3,44.0 L550.1,45.5 L550.9,47.0 L551.7,48.5 L552.5,50.0 L553.3,51.5 L554.2,53.0 L555.0,54.5 L555.8,56.0 L556.7,57.5 L557.5,59.0 L558.4,60.5 L559.3,62.0 L560.2,63.5 L561.1,65.0 L562.0,66.5 L562.9,68.0 L563.8,69.5 L564.8,71.0 L565.7,72.5 L566.7,74.0 L567.7,75.5 L568.7,77.0 L569.7,78.5 L570.7,80.0 L571.7,81.5 L572.7,83.0 L573.7,84.5 L574.7,86.0 L575.7,87.5 L576.7,89.0 L577.7,90.5 L578.7,92.0 L579.7,93.5 L580.7,95.0 L581.7,96.5 L582.8,98.0 L583.8,99.5 L584.8,101.0 L585.8,102.5 L586.9,104.0 L587.9,105.5 L589.0,107.0 L590.0,108.5 L591.1,110.0 L592.2,111.5 L593.3,113.0 L594.4,114.5 L595.6,116.0 L596.8,117.5 L598.0,119.0 L599.2,120.5 L600.4,122.0 L601.7,123.5 L602.9,125.0 L604.2,126.5 L605.4,128.0 L606.7,129.5 L607.9,131.0 L609.2,132.5 L610.4,134.0 L611.7,135.5 L612.9,137.0 L614.2,138.5 L615.4,140.0 L616.7,141.5 L618.0,143.0 L619.3,144.5 L620.5,146.0 L621.8,147.5 L623.0,149.0 L624.2,150.5 L625.4,152.0 L626.6,153.5 L627.8,155.0 L629.1,156.5 L630.3,158.0 L631.6,159.5 L632.9,161.0 L634.3,162.5 L635.7,164.0 L637.2,165.5 L638.7,167.0 L640.3,168.5 L642.0,170.0 L643.7,171.5 L645.4,173.0 L647.2,174.5 L648.9,176.0 L650.7,177.5 L652.5,179.0 L654.3,180.5 L656.1,182.0 L657.9,183.5 L659.7,185.0 L661.6,186.5 L663.5,188.0 L665.6,189.5 L667.7,191.0 L669.9,192.5 L672.4,194.0 L674.9,195.5 L677.6,197.0 L680.2,198.5 L682.8,200.0 L685.3,201.5 L687.7,203.0 L690.0,204.5 L692.5,206.0 L695.0,207.5 L697.8,209.0 L700.9,210.5 L704.2,212.0" stroke="#959595"/>
<path d="M533.7,12.5 L534.5,14.0 L535.4,15.5 L536.2,17.0 L537.0,18.5 L537.8,20.0 L538.6,21.5 L539.4,23.0 L540.2,24.5 L541.0,26.0 L541.8,27.5 L542.6,29.0 L543.4,30.5 L544.1,32.0 L544.9,33.5 L545.7,35.0 L546.5,36.5 L547.3,38.0 L548.0,39.5 L548.8,41.0 L549.6,42.5 L550.4,44.0 L551.2,45.5 L551.9,47.0 L552.7,48.5 L553.5,50.0 L554.4,51.5 L555.2,53.0 L556.0,54.5 L556.8,56.0 L557.7,57.5 L558.5,59.0 L559.4,60.5 L560.2,62.0 L561.1,63.5 L562.0,65.0 L562.9,66.5 L563.8,68.0 L564.8,69.5 L565.7,71.0 L566.7,72.5 L567.6,74.0 L568.6,75.5 L569.6,77.0 L570.6,78.5 L571.6,80.0 L572.6,81.5 L573.6,83.0 L574.6,84.5 L575.6,86.0 L576.6,87.5 L577.6,89.0 L578.6,90.5 L579.6,92.0 L580.6,93.5 L581.6,95.0 L582.6,96.5 L583.6,98.0 L584.6,99.5 L585.6,101.0 L586.6,102.5 L587.7,104.0 L588.7,105.5 L589.8,107.0 L590.8,108.5 L591.9,110.0 L593.0,111.5 L594.1,113.0 L595.2,114.5 L596.3,116.0 L597.5,117.5 L598.7,119.0 L599.9,120.5 L601.2,122.0 L602.4,123.5 L603.7,125.0 L604.9,126.5 L606.1,128.0 L607.4,129.5 L608.6,131.0 L609.8,132.5 L611.1,134.0 L612.3,135.5 L613.5,137.0 L614.8,138.5 L616.0,140.0 L617.3,141.5 L618.5,143.0 L619.8,144.5 L621.0,146.0 L622.3,147.5 L623.5,149.0 L624.7,150.5 L625.9,152.0 L627.1,153.5 L628.3,155.0 L629.5,156.5 L630.8,158.0 L632.0,159.5 L633.3,161.0 L634.7,162.5 L636.1,164.0 L637.6,165.5 L639.1,167.0 L640.7,168.5 L642.4,170.0 L644.0,171.5 L645.8,173.0 L647.5,174.5 L649.3,176.0 L651.1,177.5 L652.9,179.0 L654.6,180.5 L656.4,182.0 L658.2,183.5 L660.0,185.0 L661.9,186.5 L663.8,188.0 L665.8,189.5 L667.9,191.0 L670.2,192.5 L672.6,194.0 L675.2,195.5 L677.8,197.0 L680.4,198.5 L683.0,200.0 L685.4,201.5 L687.8,203.0 L690.2,204.5 L692.6,206.0 L695.1,207.5 L697.9,209.0 L700.9,210.5 L704.2,212.0" stroke="#959595"/>
<path d="M534.9,12.5 L535.8,14.0 L536.6,15.5 L537.4,17.0 L538.2,18.5 L539.0,20.0 L539.8,21.5 L540.6,23.0 L541.4,24.5 L542.2,26.0 L543.0,27.5 L543.7,29.0 L544.5,30.5 L545.3,32.0 L546.0,33.5 L546.8,35.0 L547.6,36.5 L548.3,38.0 L549.1,39.5 L549.9,41.0 L550.6,42.5 L551.4,44.0 L552.2,45.5 L553.0,47.0 L553.8,48.5 L554.6,50.0 L555.4,51.5 L556.2,53.0 L557.0,54.5 L557.8,56.0 L558.6,57.5 L559.5,59.0 L560.3,60.5 L561.2,62.0 L562.1,63.5 L562.9,65.0 L563.8,66.5 L564.8,68.0 L565.7,69.5 L566.6,71.0 L567.6,72.5 L568.6,74.0 L569.5,75.5 L570.5,77.0 L571.5,78.5 L572.5,80.0 L573.5,81.5 L574.5,83.0 L575.4,84.5 L576.4,86.0 L577.4,87.5 L578.4,89.0 L579.4,90.5 L580.4,92.0 L581.4,93.5 L582.4,95.0 L583.4,96.5 L584.4,98.0 L585.4,99.5 L586.4,101.0 L587.4,102.5 L588.5,104.0 L589.5,105.5 L590.5,107.0 L591.6,108.5 L592.7,110.0 L593.8,111.5 L594.9,113.0 L596.0,114.5 L597.1,116.0 L598.3,117.5 L599.5,119.0 L600.7,120.5 L601.9,122.0 L603.2,123.5 L604.4,125.0 L605.6,126.5 L606.9,128.0 L608.1,129.5 L609.3,131.0 L610.5,132.5 L611.7,134.0 L613.0,135.5 L614.2,137.0 L615.4,138.5 L616.6,140.0 L617.9,141.5 L619.1,143.0 L620.3,144.5 L621.5,146.0 L622.8,147.5 L624.0,149.0 L625.2,150.5 L626.4,152.0 L627.5,153.5 L628.7,155.0 L630.0,156.5 L631.2,158.0 L632.5,159.5 L633.8,161.0 L635.1,162.5 L636.5,164.0 L638.0,165.5 L639.5,167.0 L641.1,168.5 L642.7,170.0 L644.4,171.5 L646.1,173.0 L647.9,174.5 L649.7,176.0 L651.4,177.5 L653.2,179.0 L654.9,180.5 L656.7,182.0 L658.5,183.5 L660.3,185.0 L662.1,186.5 L664.1,188.0 L666.1,189.5 L668.2,191.0 L670.4,192.5 L672.8,194.0 L675.4,195.5 L678.0,197.0 L680.6,198.5 L683.2,200.0 L685.6,201.5 L688.0,203.0 L690.3,204.5 L692.7,206.0 L695.2,207.5 L697.9,209.0 L701.0,210.5 L704.2,212.0" stroke="#959595"/>
<path d="M543.1,12.5 L543.9,14.0 L544.7,15.5 L545.5,17.0 L546.2,18.5 L547.0,20.0 L547.7,21.5 L548.5,23.0 L549.3,24.5 L550.0,26.0 L550.7,27.5 L551.5,29.0 L552.2,30.5 L553.0,32.0 L553.7,33.5 L554.4,35.0 L555.2,36.5 L555.9,38.0 L556.6,39.5 L557.4,41.0 L558.1,42.5 L558.8,44.0 L559.6,45.5 L560.3,47.0 L561.1,48.5 L561.8,50.0 L562.6,51.5 L563.4,53.0 L564.1,54.5 L564.9,56.0 L565.7,57.5 L566.5,59.0 L567.3,60.5 L568.1,62.0 L568.9,63.5 L569.8,65.0 L570.6,66.5 L571.5,68.0 L572.4,69.5 L573.2,71.0 L574.1,72.5 L575.0,74.0 L575.9,75.5 L576.8,77.0 L577.7,78.5 L578.6,80.0 L579.6,81.5 L580.5,83.0 L581.4,84.5 L582.3,86.0 L583.3,87.5 L584.2,89.0 L585.1,90.5 L586.0,92.0 L587.0,93.5 L587.9,95.0 L588.8,96.5 L589.8,98.0 L590.7,99.5 L591.7,101.0 L592.7,102.5 L593.7,104.0 L594.7,105.5 L595.7,107.0 L596.7,108.5 L597.7,110.0 L598.7,111.5 L599.7,113.0 L600.8,114.5 L601.8,116.0 L602.9,117.5 L604.0,119.0 L605.1,120.5 L606.3,122.0 L607.4,123.5 L608.6,125.0 L609.7,126.5 L610.9,128.0 L612.1,129.5 L613.2,131.0 L614.4,132.5 L615.5,134.0 L616.7,135.5 L617.9,137.0 L619.0,138.5 L620.2,140.0 L621.4,141.5 L622.6,143.0 L623.7,144.5 L624.9,146.0 L626.0,147.5 L627.2,149.0 L628.3,150.5 L629.5,152.0 L630.6,153.5 L631.8,155.0 L633.0,156.5 L634.2,158.0 L635.4,159.5 L636.7,161.0 L638.0,162.5 L639.4,164.0 L640.8,165.5 L642.3,167.0 L643.8,168.5 L645.3,170.0 L647.0,171.5 L648.6,173.0 L650.2,174.5 L651.9,176.0 L653.6,177.5 L655.3,179.0 L657.0,180.5 L658.6,182.0 L660.3,183.5 L662.0,185.0 L663.8,186.5 L665.6,188.0 L667.5,189.5 L669.5,191.0 L671.6,192.5 L673.8,194.0 L676.2,195.5 L678.6,197.0 L681.1,198.5 L683.5,200.0 L685.8,201.5 L688.1,203.0 L690.4,204.5 L692.7,206.0 L695.2,207.5 L697.9,209.0 L701.0,210.5 L704.3,212.0" stroke="#bbbbbb"/>
<path d="M549.5,12.5 L550.2,14.0 L551.0,15.5 L551.7,17.0 L552.5,18.5 L553.2,20.0 L553.9,21.5 L554.6,23.0 L555.4,24.5 L556.1,26.0 L556.8,27.5 L557.5,29.0 L558.2,30.5 L558.9,32.0 L559.6,33.5 L560.4,35.0 L561.1,36.5 L561.8,38.0 L562.5,39.5 L563.2,41.0 L563.9,42.5 L564.6,44.0 L565.3,45.5 L566.1,47.0 L566.8,48.5 L567.5,50.0 L568.2,51.5 L569.0,53.0 L569.7,54.5 L570.5,56.0 L571.2,57.5 L572.0,59.0 L572.7,60.5 L573.5,62.0 L574.3,63.5 L575.1,65.0 L575.9,66.5 L576.7,68.0 L577.5,69.5 L578.4,71.0 L579.2,72.5 L580.0,74.0 L580.9,75.5 L581.7,77.0 L582.6,78.5 L583.5,80.0 L584.3,81.5 L585.2,83.0 L586.1,84.5 L586.9,86.0 L587.8,87.5 L588.7,89.0 L589.5,90.5 L590.4,92.0 L591.3,93.5 L592.2,95.0 L593.1,96.5 L594.0,98.0 L594.9,99.5 L595.8,101.0 L596.8,102.5 L597.7,104.0 L598.7,105.5 L599.6,107.0 L600.6,108.5 L601.6,110.0 L602.6,111.5 L603.5,113.0 L604.5,114.5 L605.5,116.0 L606.5,117.5 L607.5,119.0 L608.6,120.5 L609.7,122.0 L610.7,123.5 L611.8,125.0 L612.9,126.5 L614.0,128.0 L615.1,129.5 L616.2,131.0 L617.4,132.5 L618.5,134.0 L619.6,135.5 L620.7,137.0 L621.8,138.5 L623.0,140.0 L624.1,141.5 L625.3,143.0 L626.4,144.5 L627.5,146.0 L628.6,147.5 L629.7,149.0 L630.8,150.5 L631.9,152.0 L633.0,153.5 L634.2,155.0 L635.3,156.5 L636.5,158.0 L637.8,159.5 L639.0,161.0 L640.3,162.5 L641.6,164.0 L643.0,165.5 L644.4,167.0 L645.9,168.5 L647.4,170.0 L648.9,171.5 L650.5,173.0 L652.1,174.5 L653.7,176.0 L655.3,177.5 L656.9,179.0 L658.5,180.5 L660.2,182.0 L661.8,183.5 L663.4,185.0 L665.1,186.5 L666.8,188.0 L668.6,189.5 L670.5,191.0 L672.5,192.5 L674.6,194.0 L676.8,195.5 L679.1,197.0 L681.5,198.5 L683.8,200.0 L686.0,201.5 L688.2,203.0 L690.5,204.5 L692.8,206.0 L695.3,207.5 L698.0,209.0 L700.9,210.5 L704.3,212.0" stroke="#bbbbbb"/>
<path d="M556.7,12.5 L557.4,14.0 L558.2,15.5 L558.9,17.0 L559.6,18.5 L560.3,20.0 L561.0,21.5 L561.7,23.0 L562.3,24.5 L563.0,26.0 L563.7,27.5 L564.4,29.0 L565.1,30.5 L565.8,32.0 L566.4,33.5 L567.1,35.0 L567.8,36.5 L568.5,38.0 L569.2,39.5 L569.8,41.0 L570.5,42.5 L571.2,44.0 L571.9,45.5 L572.6,47.0 L573.3,48.5 L574.0,50.0 L574.7,51.5 L575.4,53.0 L576.1,54.5 L576.8,56.0 L577.5,57.5 L578.2,59.0 L579.0,60.5 L579.7,62.0 L580.4,63.5 L581.2,65.0 L581.9,66.5 L582.7,68.0 L583.4,69.5 L584.2,71.0 L585.0,72.5 L585.8,74.0 L586.6,75.5 L587.4,77.0 L588.1,78.5 L588.9,80.0 L589.8,81.5 L590.6,83.0 L591.4,84.5 L592.2,86.0 L593.0,87.5 L593.8,89.0 L594.6,90.5 L595.4,92.0 L596.2,93.5 L597.1,95.0 L597.9,96.5 L598.7,98.0 L599.6,99.5 L600.5,101.0 L601.4,102.5 L602.3,104.0 L603.3,105.5 L604.2,107.0 L605.1,108.5 L606.0,110.0 L606.9,111.5 L607.9,113.0 L608.8,114.5 L609.7,116.0 L610.6,117.5 L611.6,119.0 L612.5,120.5 L613.5,122.0 L614.5,123.5 L615.6,125.0 L616.6,126.5 L617.6,128.0 L618.7,129.5 L619.7,131.0 L620.8,132.5 L621.8,134.0 L622.9,135.5 L624.0,137.0 L625.1,138.5 L626.2,140.0 L627.3,141.5 L628.3,143.0 L629.4,144.5 L630.5,146.0 L631.5,147.5 L632.5,149.0 L633.6,150.5 L634.6,152.0 L635.7,153.5 L636.9,155.0 L638.0,156.5 L639.2,158.0 L640.4,159.5 L641.6,161.0 L642.9,162.5 L644.2,164.0 L645.5,165.5 L646.9,167.0 L648.3,168.5 L649.7,170.0 L651.2,171.5 L652.7,173.0 L654.2,174.5 L655.7,176.0 L657.2,177.5 L658.8,179.0 L660.3,180.5 L661.9,182.0 L663.4,183.5 L665.0,185.0 L666.6,186.5 L668.2,188.0 L669.9,189.5 L671.7,191.0 L673.5,192.5 L675.5,194.0 L677.6,195.5 L679.7,197.0 L681.9,198.5 L684.1,200.0 L686.2,201.5 L688.4,203.0 L690.6,204.5 L692.9,206.0 L695.3,207.5 L698.0,209.0 L700.9,210.5 L704.3,212.0" stroke="#bbbbbb"/>
<path d="M567.6,12.5 L568.3,14.0 L568.9,15.5 L569.6,17.0 L570.2,18.5 L570.9,20.0 L571.5,21.5 L572.2,23.0 L572.8,24.5 L573.5,26.0 L574.1,27.5 L574.7,29.0 L575.4,30.5 L576.0,32.0 L576.7,33.5 L577.3,35.0 L577.9,36.5 L578.6,38.0 L579.2,39.5 L579.8,41.0 L580.5,42.5 L581.1,44.0 L581.8,45.5 L582.4,47.0 L583.0,48.5 L583.7,50.0 L584.3,51.5 L585.0,53.0 L585.6,54.5 L586.3,56.0 L586.9,57.5 L587.6,59.0 L588.3,60.5 L588.9,62.0 L589.6,63.5 L590.3,65.0 L591.0,66.5 L591.6,68.0 L592.3,69.5 L593.0,71.0 L593.7,72.5 L594.4,74.0 L595.1,75.5 L595.8,77.0 L596.5,78.5 L597.2,80.0 L597.9,81.5 L598.6,83.0 L599.3,84.5 L600.0,86.0 L600.8,87.5 L601.5,89.0 L602.2,90.5 L602.9,92.0 L603.7,93.5 L604.4,95.0 L605.2,96.5 L605.9,98.0 L606.7,99.5 L607.6,101.0 L608.4,102.5 L609.3,104.0 L610.2,105.5 L611.0,107.0 L611.9,108.5 L612.7,110.0 L613.5,111.5 L614.3,113.0 L615.1,114.5 L615.9,116.0 L616.8,117.5 L617.6,119.0 L618.4,120.5 L619.3,122.0 L620.2,123.5 L621.1,125.0 L622.1,126.5 L623.0,128.0 L624.0,129.5 L624.9,131.0 L625.9,132.5 L626.9,134.0 L627.9,135.5 L628.9,137.0 L629.9,138.5 L630.9,140.0 L632.0,141.5 L633.0,143.0 L634.0,144.5 L634.9,146.0 L635.9,147.5 L636.8,149.0 L637.8,150.5 L638.8,152.0 L639.8,153.5 L640.9,155.0 L642.1,156.5 L643.2,158.0 L644.4,159.5 L645.6,161.0 L646.8,162.5 L648.0,164.0 L649.2,165.5 L650.5,167.0 L651.8,168.5 L653.2,170.0 L654.5,171.5 L655.9,173.0 L657.3,174.5 L658.7,176.0 L660.2,177.5 L661.6,179.0 L663.0,180.5 L664.5,182.0 L665.9,183.5 L667.3,185.0 L668.8,186.5 L670.3,188.0 L671.8,189.5 L673.4,191.0 L675.1,192.5 L676.8,194.0 L678.7,195.5 L680.6,197.0 L682.5,198.5 L684.5,200.0 L686.5,201.5 L688.6,203.0 L690.7,204.5 L692.9,206.0 L695.3,207.5 L698.0,209.0 L700.9,210.5 L704.3,212.0" stroke="#bbbbbb"/>
<path d="M570.4,12.5 L571.0,14.0 L571.6,15.5 L572.3,17.0 L572.9,18.5 L573.5,20.0 L574.2,21.5 L574.8,23.0 L575.4,24.5 L576.1,26.0 L576.7,27.5 L577.3,29.0 L578.0,30.5 L578.6,32.0 L579.2,33.5 L579.8,35.0 L580.5,36.5 L581.1,38.0 L581.7,39.5 L582.3,41.0 L583.0,42.5 L583.6,44.0 L584.2,45.5 L584.8,47.0 L585.5,48.5 L586.1,50.0 L586.7,51.5 L587.4,53.0 L588.0,54.5 L588.7,56.0 L589.3,57.5 L589.9,59.0 L590.6,60.5 L591.2,62.0 L591.9,63.5 L592.6,65.0 L593.2,66.5 L593.9,68.0 L594.5,69.5 L595.2,71.0 L595.9,72.5 L596.5,74.0 L597.2,75.5 L597.9,77.0 L598.6,78.5 L599.2,80.0 L599.9,81.5 L600.6,83.0 L601.3,84.5 L602.0,86.0 L602.7,87.5 L603.4,89.0 L604.1,90.5 L604.8,92.0 L605.5,93.5 L606.2,95.0 L607.0,96.5 L607.7,98.0 L608.5,99.5 L609.3,101.0 L610.2,102.5 L611.0,104.0 L611.9,105.5 L612.7,107.0 L613.6,108.5 L614.4,110.0 L615.2,111.5 L616.0,113.0 L616.7,114.5 L617.5,116.0 L618.3,117.5 L619.1,119.0 L619.9,120.5 L620.8,122.0 L621.6,123.5 L622.5,125.0 L623.4,126.5 L624.4,128.0 L625.3,129.5 L626.2,131.0 L627.2,132.5 L628.1,134.0 L629.1,135.5 L630.1,137.0 L631.1,138.5 L632.1,140.0 L633.1,141.5 L634.1,143.0 L635.1,144.5 L636.0,146.0 L637.0,147.5 L637.9,149.0 L638.8,150.5 L639.8,152.0 L640.9,153.5 L641.9,155.0 L643.1,156.5 L644.2,158.0 L645.4,159.5 L646.5,161.0 L647.7,162.5 L648.9,164.0 L650.2,165.5 L651.4,167.0 L652.7,168.5 L654.0,170.0 L655.4,171.5 L656.7,173.0 L658.1,174.5 L659.5,176.0 L660.9,177.5 L662.3,179.0 L663.7,180.5 L665.1,182.0 L666.5,183.5 L667.9,185.0 L669.4,186.5 L670.8,188.0 L672.3,189.5 L673.8,191.0 L675.5,192.5 L677.2,194.0 L678.9,195.5 L680.8,197.0 L682.7,198.5 L684.7,200.0 L686.6,201.5 L688.6,203.0 L690.7,204.5 L693.0,206.0 L695.4,207.5 L698.0,209.0 L700.9,210.5 L704.4,212.0" stroke="#bbbbbb"/>
<path d="M573.1,12.5 L573.7,14.0 L574.3,15.5 L575.0,17.0 L575.6,18.5 L576.2,20.0 L576.8,21.5 L577.4,23.0 L578.1,24.5 L578.7,26.0 L579.3,27.5 L579.9,29.0 L580.5,30.5 L581.1,32.0 L581.8,33.5 L582.4,35.0 L583.0,36.5 L583.6,38.0 L584.2,39.5 L584.8,41.0 L585.4,42.5 L586.1,44.0 L586.7,45.5 L587.3,47.0 L587.9,48.5 L588.5,50.0 L589.2,51.5 L589.8,53.0 L590.4,54.5 L591.0,56.0 L591.7,57.5 L592.3,59.0 L592.9,60.5 L593.6,62.0 L594.2,63.5 L594.8,65.0 L595.5,66.5 L596.1,68.0 L596.8,69.5 L597.4,71.0 L598.0,72.5 L598.7,74.0 L599.3,75.5 L600.0,77.0 L600.7,78.5 L601.3,80.0 L602.0,81.5 L602.6,83.0 L603.3,84.5 L604.0,86.0 L604.6,87.5 L605.3,89.0 L606.0,90.5 L606.7,92.0 L607.4,93.5 L608.1,95.0 L608.8,96.5 L609.5,98.0 L610.3,99.5 L611.1,101.0 L611.9,102.5 L612.8,104.0 L613.6,105.5 L614.4,107.0 L615.3,108.5 L616.1,110.0 L616.8,111.5 L617.6,113.0 L618.3,114.5 L619.1,116.0 L619.8,117.5 L620.6,119.0 L621.4,120.5 L622.2,122.0 L623.1,123.5 L623.9,125.0 L624.8,126.5 L625.7,128.0 L626.6,129.5 L627.5,131.0 L628.4,132.5 L629.4,134.0 L630.3,135.5 L631.3,137.0 L632.3,138.5 L633.3,140.0 L634.3,141.5 L635.3,143.0 L636.2,144.5 L637.2,146.0 L638.0,147.5 L639.0,149.0 L639.9,150.5 L640.9,152.0 L641.9,153.5 L643.0,155.0 L644.1,156.5 L645.2,158.0 L646.4,159.5 L647.5,161.0 L648.7,162.5 L649.9,164.0 L651.1,165.5 L652.4,167.0 L653.6,168.5 L654.9,170.0 L656.2,171.5 L657.6,173.0 L658.9,174.5 L660.2,176.0 L661.6,177.5 L663.0,179.0 L664.4,180.5 L665.8,182.0 L667.1,183.5 L668.5,185.0 L669.9,186.5 L671.3,188.0 L672.8,189.5 L674.3,191.0 L675.8,192.5 L677.5,194.0 L679.2,195.5 L681.0,197.0 L682.9,198.5 L684.8,200.0 L686.7,201.5 L688.7,203.0 L690.8,204.5 L693.0,206.0 L695.4,207.5 L698.0,209.0 L700.9,210.5 L704.4,212.0" stroke="#bbbbbb"/>
<path d="M575.4,12.5 L576.0,14.0 L576.6,15.5 L577.2,17.0 L577.8,18.5 L578.4,20.0 L579.0,21.5 L579.6,23.0 L580.2,24.5 L580.9,26.0 L581.5,27.5 L582.1,29.0 L582.7,30.5 L583.3,32.0 L583.9,33.5 L584.5,35.0 L585.1,36.5 L585.7,38.0 L586.3,39.5 L586.9,41.0 L587.5,42.5 L588.1,44.0 L588.7,45.5 L589.3,47.0 L589.9,48.5 L590.6,50.0 L591.2,51.5 L591.8,53.0 L592.4,54.5 L593.0,56.0 L593.6,57.5 L594.2,59.0 L594.9,60.5 L595.5,62.0 L596.1,63.5 L596.7,65.0 L597.4,66.5 L598.0,68.0 L598.6,69.5 L599.2,71.0 L599.9,72.5 L600.5,74.0 L601.1,75.5 L601.8,77.0 L602.4,78.5 L603.0,80.0 L603.7,81.5 L604.3,83.0 L605.0,84.5 L605.6,86.0 L606.3,87.5 L606.9,89.0 L607.6,90.5 L608.3,92.0 L608.9,93.5 L609.6,95.0 L610.3,96.5 L611.0,98.0 L611.8,99.5 L612.6,101.0 L613.4,102.5 L614.2,104.0 L615.0,105.5 L615.9,107.0 L616.7,108.5 L617.5,110.0 L618.2,111.5 L619.0,113.0 L619.7,114.5 L620.4,116.0 L621.1,117.5 L621.9,119.0 L622.6,120.5 L623.4,122.0 L624.2,123.5 L625.1,125.0 L625.9,126.5 L626.8,128.0 L627.7,129.5 L628.6,131.0 L629.5,132.5 L630.4,134.0 L631.4,135.5 L632.3,137.0 L633.3,138.5 L634.3,140.0 L635.3,141.5 L636.3,143.0 L637.2,144.5 L638.1,146.0 L639.0,147.5 L639.8,149.0 L640.8,150.5 L641.7,152.0 L642.7,153.5 L643.8,155.0 L644.9,156.5 L646.0,158.0 L647.2,159.5 L648.3,161.0 L649.5,162.5 L650.7,164.0 L651.9,165.5 L653.1,167.0 L654.4,168.5 L655.6,170.0 L656.9,171.5 L658.2,173.0 L659.5,174.5 L660.9,176.0 L662.2,177.5 L663.6,179.0 L664.9,180.5 L666.3,182.0 L667.7,183.5 L669.0,185.0 L670.4,186.5 L671.8,188.0 L673.2,189.5 L674.6,191.0 L676.2,192.5 L677.8,194.0 L679.4,195.5 L681.2,197.0 L683.0,198.5 L684.9,200.0 L686.8,201.5 L688.7,203.0 L690.8,204.5 L693.0,206.0 L695.4,207.5 L698.0,209.0 L700.8,210.5 L704.4,212.0" stroke="#bbbbbb"/>
<path d="M577.6,12.5 L578.2,14.0 L578.8,15.5 L579.4,17.0 L580.0,18.5 L580.6,20.0 L581.2,21.5 L581.8,23.0 L582.4,24.5 L583.0,26.0 L583.6,27.5 L584.2,29.0 L584.8,30.5 L585.4,32.0 L586.0,33.5 L586.6,35.0 L587.2,36.5 L587.8,38.0 L588.4,39.5 L589.0,41.0 L589.6,42.5 L590.2,44.0 L590.8,45.5 L591.4,47.0 L592.0,48.5 L592.6,50.0 L593.2,51.5 L593.8,53.0 L594.4,54.5 L595.0,56.0 L595.6,57.5 L596.2,59.0 L596.8,60.5 L597.4,62.0 L598.0,63.5 L598.6,65.0 L599.2,66.5 L599.8,68.0 L600.5,69.5 L601.1,71.0 L601.7,72.5 L602.3,74.0 L602.9,75.5 L603.5,77.0 L604.1,78.5 L604.7,80.0 L605.4,81.5 L606.0,83.0 L606.6,84.5 L607.3,86.0 L607.9,87.5 L608.5,89.0 L609.2,90.5 L609.8,92.0 L610.5,93.5 L611.1,95.0 L611.8,96.5 L612.5,98.0 L613.3,99.5 L614.0,101.0 L614.8,102.5 L615.6,104.0 L616.5,105.5 L617.3,107.0 L618.1,108.5 L618.9,110.0 L619.6,111.5 L620.3,113.0 L621.0,114.5 L621.7,116.0 L622.4,117.5 L623.1,119.0 L623.9,120.5 L624.6,122.0 L625.4,123.5 L626.3,125.0 L627.1,126.5 L627.9,128.0 L628.8,129.5 L629.7,131.0 L630.6,132.5 L631.5,134.0 L632.4,135.5 L633.4,137.0 L634.3,138.5 L635.3,140.0 L636.3,141.5 L637.2,143.0 L638.1,144.5 L639.0,146.0 L639.9,147.5 L640.7,149.0 L641.6,150.5 L642.6,152.0 L643.6,153.5 L644.7,155.0 L645.7,156.5 L646.9,158.0 L648.0,159.5 L649.2,161.0 L650.3,162.5 L651.5,164.0 L652.7,165.5 L653.9,167.0 L655.1,168.5 L656.4,170.0 L657.6,171.5 L658.9,173.0 L660.2,174.5 L661.5,176.0 L662.8,177.5 L664.1,179.0 L665.5,180.5 L666.8,182.0 L668.2,183.5 L669.5,185.0 L670.8,186.5 L672.2,188.0 L673.6,189.5 L675.0,191.0 L676.5,192.5 L678.0,194.0 L679.7,195.5 L681.4,197.0 L683.1,198.5 L685.0,200.0 L686.8,201.5 L688.8,203.0 L690.8,204.5 L693.0,206.0 L695.4,207.5 L698.0,209.0 L700.8,210.5 L704.4,212.0" stroke="#bbbbbb"/>
<path d="M580.4,12.5 L580.9,14.0 L581.5,15.5 L582.1,17.0 L582.7,18.5 L583.3,20.0 L583.9,21.5 L584.5,23.0 L585.0,24.5 L585.6,26.0 L586.2,27.5 L586.8,29.0 L587.4,30.5 L588.0,32.0 L588.6,33.5 L589.1,35.0 L589.7,36.5 L590.3,38.0 L590.9,39.5 L591.5,41.0 L592.1,42.5 L592.7,44.0 L593.2,45.5 L593.8,47.0 L594.4,48.5 L595.0,50.0 L595.6,51.5 L596.2,53.0 L596.8,54.5 L597.4,56.0 L597.9,57.5 L598.5,59.0 L599.1,60.5 L599.7,62.0 L600.3,63.5 L600.9,65.0 L601.5,66.5 L602.1,68.0 L602.7,69.5 L603.3,71.0 L603.8,72.5 L604.4,74.0 L605.0,75.5 L605.6,77.0 L606.2,78.5 L606.8,80.0 L607.4,81.5 L608.0,83.0 L608.6,84.5 L609.2,86.0 L609.8,87.5 L610.4,89.0 L611.1,90.5 L611.7,92.0 L612.3,93.5 L613.0,95.0 L613.6,96.5 L614.3,98.0 L615.0,99.5 L615.8,101.0 L616.6,102.5 L617.4,104.0 L618.2,105.5 L619.0,107.0 L619.8,108.5 L620.5,110.0 L621.2,111.5 L621.9,113.0 L622.6,114.5 L623.3,116.0 L623.9,117.5 L624.6,119.0 L625.3,120.5 L626.1,122.0 L626.9,123.5 L627.6,125.0 L628.5,126.5 L629.3,128.0 L630.1,129.5 L631.0,131.0 L631.9,132.5 L632.7,134.0 L633.7,135.5 L634.6,137.0 L635.5,138.5 L636.5,140.0 L637.5,141.5 L638.4,143.0 L639.3,144.5 L640.1,146.0 L641.0,147.5 L641.8,149.0 L642.7,150.5 L643.6,152.0 L644.6,153.5 L645.7,155.0 L646.8,156.5 L647.9,158.0 L649.0,159.5 L650.1,161.0 L651.3,162.5 L652.4,164.0 L653.6,165.5 L654.8,167.0 L656.0,168.5 L657.2,170.0 L658.5,171.5 L659.7,173.0 L661.0,174.5 L662.3,176.0 L663.6,177.5 L664.8,179.0 L666.2,180.5 L667.5,182.0 L668.8,183.5 L670.1,185.0 L671.4,186.5 L672.7,188.0 L674.1,189.5 L675.4,191.0 L676.9,192.5 L678.4,194.0 L679.9,195.5 L681.6,197.0 L683.3,198.5 L685.1,200.0 L686.9,201.5 L688.8,203.0 L690.9,204.5 L693.0,206.0 L695.4,207.5 L698.0,209.0 L700.8,210.5 L704.4,212.0" stroke="#bbbbbb"/>
<path d="M584.9,12.5 L585.5,14.0 L586.0,15.5 L586.6,17.0 L587.2,18.5 L587.7,20.0 L588.3,21.5 L588.8,23.0 L589.4,24.5 L590.0,26.0 L590.5,27.5 L591.1,29.0 L591.7,30.5 L592.2,32.0 L592.8,33.5 L593.4,35.0 L593.9,36.5 L594.5,38.0 L595.1,39.5 L595.6,41.0 L596.2,42.5 L596.8,44.0 L597.3,45.5 L597.9,47.0 L598.5,48.5 L599.0,50.0 L599.6,51.5 L600.2,53.0 L600.7,54.5 L601.3,56.0 L601.9,57.5 L602.4,59.0 L603.0,60.5 L603.6,62.0 L604.1,63.5 L604.7,65.0 L605.3,66.5 L605.8,68.0 L606.4,69.5 L606.9,71.0 L607.5,72.5 L608.0,74.0 L608.6,75.5 L609.1,77.0 L609.7,78.5 L610.2,80.0 L610.8,81.5 L611.4,83.0 L611.9,84.5 L612.5,86.0 L613.1,87.5 L613.7,89.0 L614.2,90.5 L614.8,92.0 L615.4,93.5 L616.0,95.0 L616.6,96.5 L617.3,98.0 L618.0,99.5 L618.7,101.0 L619.5,102.5 L620.3,104.0 L621.1,105.5 L621.8,107.0 L622.6,108.5 L623.3,110.0 L624.0,111.5 L624.6,113.0 L625.3,114.5 L625.9,116.0 L626.5,117.5 L627.1,119.0 L627.8,120.5 L628.5,122.0 L629.2,123.5 L630.0,125.0 L630.7,126.5 L631.5,128.0 L632.3,129.5 L633.2,131.0 L634.0,132.5 L634.8,134.0 L635.7,135.5 L636.6,137.0 L637.6,138.5 L638.5,140.0 L639.4,141.5 L640.3,143.0 L641.2,144.5 L642.0,146.0 L642.8,147.5 L643.6,149.0 L644.4,150.5 L645.4,152.0 L646.3,153.5 L647.4,155.0 L648.4,156.5 L649.5,158.0 L650.7,159.5 L651.8,161.0 L652.9,162.5 L654.0,164.0 L655.2,165.5 L656.3,167.0 L657.5,168.5 L658.7,170.0 L659.9,171.5 L661.1,173.0 L662.3,174.5 L663.5,176.0 L664.8,177.5 L666.0,179.0 L667.3,180.5 L668.6,182.0 L669.8,183.5 L671.1,185.0 L672.3,186.5 L673.6,188.0 L674.9,189.5 L676.2,191.0 L677.5,192.5 L678.9,194.0 L680.4,195.5 L681.9,197.0 L683.6,198.5 L685.3,200.0 L687.0,201.5 L688.9,203.0 L690.9,204.5 L693.1,206.0 L695.4,207.5 L698.0,209.0 L700.8,210.5 L704.4,212.0" stroke="#bbbbbb"/>
</g>
<path d="M100.0,207.0 L102.0,207.7 L104.0,208.3 L106.0,209.0 L108.0,209.6 L110.0,210.2 L112.0,210.8 L114.0,211.4 L116.0,212.0 L118.0,212.6 L120.0,213.2 L122.0,213.7 L124.0,214.3 L126.0,214.8 L128.0,215.4 L130.0,215.9 L132.0,216.4 L134.0,216.9 L136.0,217.4 L138.0,217.8 L140.0,218.3 L142.0,218.8 L144.0,219.2 L146.0,219.6 L148.0,220.1 L150.0,220.5 L152.0,220.9 L154.0,221.3 L156.0,221.7 L158.0,222.0 L160.0,222.4 L162.0,222.8 L164.0,223.1 L166.0,223.4 L168.0,223.7 L170.0,224.1 L172.0,224.3 L174.0,224.6 L176.0,224.9 L178.0,225.2 L180.0,225.4 L182.0,225.7 L184.0,225.9 L186.0,226.2 L188.0,226.4 L190.0,226.7 L192.0,226.9 L194.0,227.2 L196.0,227.4 L198.0,227.6 L200.0,227.9 L202.0,228.1 L204.0,228.3 L206.0,228.4 L208.0,228.6 L210.0,228.8 L212.0,228.9 L214.0,229.0 L216.0,229.1 L218.0,229.2 L220.0,229.3 L222.0,229.4 L224.0,229.5 L226.0,229.6 L228.0,229.6 L230.0,229.7 L232.0,229.7 L234.0,229.7 L236.0,229.7 L238.0,229.7 L240.0,229.7 L242.0,229.7 L244.0,229.7 L246.0,229.6 L248.0,229.6 L250.0,229.6 L252.0,229.6 L254.0,229.6 L256.0,229.5 L258.0,229.5 L260.0,229.5 L262.0,229.4 L264.0,229.4 L266.0,229.4 L268.0,229.3 L270.0,229.3 L272.0,229.2 L274.0,229.2 L276.0,229.2 L278.0,229.1 L280.0,229.1 L282.0,229.0 L284.0,229.0 L286.0,228.9 L288.0,228.9 L290.0,228.8 L292.0,228.8 L294.0,228.7 L296.0,228.7 L298.0,228.7 L300.0,228.6 L302.0,228.6 L304.0,228.5 L306.0,228.5 L308.0,228.4 L310.0,228.4 L312.0,228.3 L314.0,228.3 L316.0,228.2 L318.0,228.2 L320.0,228.1 L322.0,228.1 L324.0,228.0 L326.0,227.9 L328.0,227.9 L330.0,227.8 L332.0,227.8 L334.0,227.7 L336.0,227.6 L338.0,227.6 L340.0,227.5 L342.0,227.4 L344.0,227.4 L346.0,227.3 L348.0,227.2 L350.0,227.1 L352.0,227.1 L354.0,227.0 L356.0,226.9 L358.0,226.8 L360.0,226.8 L362.0,226.7 L364.0,226.6 L366.0,226.5 L368.0,226.5 L370.0,226.4 L372.0,226.3 L374.0,226.2 L376.0,226.2 L378.0,226.1 L380.0,226.0 L382.0,225.9 L384.0,225.9 L386.0,225.8 L388.0,225.7 L390.0,225.7 L392.0,225.6 L394.0,225.5 L396.0,225.4 L398.0,225.4 L400.0,225.3 L402.0,225.2 L404.0,225.2 L406.0,225.1 L408.0,225.0 L410.0,225.0 L412.0,224.9 L414.0,224.8 L416.0,224.8 L418.0,224.7 L420.0,224.7 L422.0,224.6 L424.0,224.6 L426.0,224.5 L428.0,224.4 L430.0,224.4 L432.0,224.4 L434.0,224.3 L436.0,224.3 L438.0,224.2 L440.0,224.2 L442.0,224.1 L444.0,224.1 L446.0,224.0 L448.0,224.0 L450.0,223.9 L452.0,223.9 L454.0,223.8 L456.0,223.8 L458.0,223.8 L460.0,223.7 L462.0,223.7 L464.0,223.6 L466.0,223.6 L468.0,223.6 L470.0,223.5 L472.0,223.5 L474.0,223.4 L476.0,223.4 L478.0,223.4 L480.0,223.3 L482.0,223.3 L484.0,223.2 L486.0,223.2 L488.0,223.2 L490.0,223.1 L492.0,223.1 L494.0,223.1 L496.0,223.0 L498.0,223.0 L500.0,223.0 L502.0,222.9 L504.0,222.9 L506.0,222.9 L508.0,222.9 L510.0,222.8 L512.0,222.8 L514.0,222.8 L516.0,222.7 L518.0,222.7 L520.0,222.7 L522.0,222.6 L524.0,222.6 L526.0,222.6 L528.0,222.5 L530.0,222.5 L532.0,222.5 L534.0,222.5 L536.0,222.4 L538.0,222.4 L540.0,222.4 L542.0,222.3 L544.0,222.3 L546.0,222.3 L548.0,222.2 L550.0,222.2 L552.0,222.2 L554.0,222.2 L556.0,222.1 L558.0,222.1 L560.0,222.1 L562.0,222.1 L564.0,222.0 L566.0,222.0 L568.0,222.0 L570.0,222.0 L572.0,222.0 L574.0,221.9 L576.0,221.9 L578.0,221.9 L580.0,221.9 L582.0,221.9 L584.0,221.9 L586.0,221.8 L588.0,221.8 L590.0,221.8 L592.0,221.8 L594.0,221.8 L596.0,221.8 L598.0,221.8 L600.0,221.8 L602.0,221.8 L604.0,221.8 L606.0,221.8 L608.0,221.8 L610.0,221.8 L612.0,221.8 L614.0,221.8 L616.0,221.8 L618.0,221.8 L620.0,221.8 L622.0,221.8 L624.0,221.8 L626.0,221.8 L628.0,221.8 L630.0,221.8 L632.0,221.8 L634.0,221.8 L636.0,221.8 L638.0,221.8 L640.0,221.8 L642.0,221.8 L644.0,221.8 L646.0,221.8 L648.0,221.8 L650.0,221.8 L652.0,221.8 L654.0,221.8 L656.0,221.8 L658.0,221.8 L660.0,221.7 L662.0,221.7 L664.0,221.7 L666.0,221.7 L668.0,221.7 L670.0,221.7 L672.0,221.7 L674.0,221.7 L676.0,221.7 L678.0,221.7 L680.0,221.7 L682.0,221.7 L684.0,221.7 L686.0,221.7 L688.0,221.7 L690.0,221.7 L692.0,221.7 L694.0,221.7 L696.0,221.7 L698.0,221.7 L700.0,221.7 L702.0,221.7 L704.0,221.7 L706.0,221.7 L708.0,221.7 L710.0,221.7 L712.0,221.7 L714.0,221.7 L716.0,221.7 L718.0,221.7 L720.0,221.7 L722.0,221.7 L724.0,221.7 L726.0,221.7 L728.0,221.7 L730.0,221.7 L732.0,221.7 L734.0,221.7 L736.0,221.7 L738.0,221.7 L740.0,221.7 L742.0,221.7 L744.0,221.7 L746.0,221.7 L748.0,221.7 L750.0,221.7 L752.0,221.7 L754.0,221.7 L756.0,221.7 L758.0,221.7 L760.0,221.7 L762.0,221.7 L764.0,221.7 L766.0,221.7 L768.0,221.7 L770.0,221.7 L772.0,221.7 L774.0,221.7 L776.0,221.7 L778.0,221.7 L780.0,221.7 L782.0,221.7 L784.0,221.7 L786.0,221.7 L788.0,221.7 L790.0,221.7 L792.0,221.7 L794.0,221.7 L796.0,221.7 L798.0,221.7 L800.0,221.7 L802.0,221.7 L804.0,221.7 L806.0,221.7 L808.0,221.7 L810.0,221.7 L812.0,221.7 L813.6,221.7" stroke="#0000ff" stroke-width="3"/>
<path d="M100.0,196.3 L102.0,195.7 L104.0,195.2 L106.0,194.7 L108.0,194.2 L110.0,193.7 L112.0,193.2 L114.0,192.7 L116.0,192.2 L118.0,191.8 L120.0,191.4 L122.0,191.0 L124.0,190.6 L126.0,190.2 L128.0,189.9 L130.0,189.6 L132.0,189.3 L134.0,189.0 L136.0,188.7 L138.0,188.4 L140.0,188.2 L142.0,188.0 L144.0,187.8 L146.0,187.7 L148.0,187.5 L150.0,187.4 L152.0,187.3 L154.0,187.3 L156.0,187.2 L158.0,187.2 L160.0,187.2 L162.0,187.2 L164.0,187.3 L166.0,187.4 L168.0,187.5 L170.0,187.6 L172.0,187.7 L174.0,187.9 L176.0,188.1 L178.0,188.3 L180.0,188.5 L182.0,188.7 L184.0,189.0 L186.0,189.2 L188.0,189.5 L190.0,189.8 L192.0,190.1 L194.0,190.4 L196.0,190.7 L198.0,191.0 L200.0,191.3 L202.0,191.7 L204.0,192.0 L206.0,192.4 L208.0,192.7 L210.0,193.1 L212.0,193.4 L214.0,193.8 L216.0,194.1 L218.0,194.5 L220.0,194.9 L222.0,195.2 L224.0,195.6 L226.0,195.9 L228.0,196.3 L230.0,196.6 L232.0,196.9 L234.0,197.3 L236.0,197.6 L238.0,197.9 L240.0,198.3 L242.0,198.7 L244.0,199.1 L246.0,199.5 L248.0,199.9 L250.0,200.3 L252.0,200.7 L254.0,201.1 L256.0,201.6 L258.0,202.0 L260.0,202.4 L262.0,202.9 L264.0,203.3 L266.0,203.8 L268.0,204.3 L270.0,204.7 L272.0,205.2 L274.0,205.6 L276.0,206.0 L278.0,206.5 L280.0,206.9 L282.0,207.3 L284.0,207.8 L286.0,208.2 L288.0,208.6 L290.0,209.0 L292.0,209.4 L294.0,209.7 L296.0,210.1 L298.0,210.4 L300.0,210.7 L302.0,211.0 L304.0,211.3 L306.0,211.6 L308.0,211.9 L310.0,212.2 L312.0,212.4 L314.0,212.7 L316.0,212.9 L318.0,213.2 L320.0,213.4 L322.0,213.6 L324.0,213.8 L326.0,214.0 L328.0,214.3 L330.0,214.5 L332.0,214.7 L334.0,214.8 L336.0,215.0 L338.0,215.2 L340.0,215.4 L342.0,215.6 L344.0,215.7 L346.0,215.9 L348.0,216.0 L350.0,216.1 L352.0,216.3 L354.0,216.4 L356.0,216.5 L358.0,216.7 L360.0,216.8 L362.0,216.9 L364.0,217.0 L366.0,217.1 L368.0,217.2 L370.0,217.2 L372.0,217.3 L374.0,217.4 L376.0,217.5 L378.0,217.6 L380.0,217.7 L382.0,217.7 L384.0,217.8 L386.0,217.9 L388.0,218.0 L390.0,218.1 L392.0,218.2 L394.0,218.2 L396.0,218.3 L398.0,218.4 L400.0,218.5 L402.0,218.6 L404.0,218.8 L406.0,218.9 L408.0,219.0 L410.0,219.2 L412.0,219.3 L414.0,219.5 L416.0,219.6 L418.0,219.7 L420.0,219.8 L422.0,219.9 L424.0,220.0 L426.0,220.1 L428.0,220.2 L430.0,220.2 L432.0,220.3 L434.0,220.4 L436.0,220.4 L438.0,220.5 L440.0,220.5 L442.0,220.6 L444.0,220.6 L446.0,220.6 L448.0,220.7 L450.0,220.7 L452.0,220.8 L454.0,220.8 L456.0,220.8 L458.0,220.9 L460.0,220.9 L462.0,220.9 L464.0,221.0 L466.0,221.0 L468.0,221.0 L470.0,221.1 L472.0,221.1 L474.0,221.1 L476.0,221.1 L478.0,221.2 L480.0,221.2 L482.0,221.2 L484.0,221.2 L486.0,221.3 L488.0,221.3 L490.0,221.3 L492.0,221.3 L494.0,221.3 L496.0,221.3 L498.0,221.4 L500.0,221.4 L502.0,221.4 L504.0,221.4 L506.0,221.4 L508.0,221.4 L510.0,221.4 L512.0,221.4 L514.0,221.4 L516.0,221.5 L518.0,221.5 L520.0,221.5 L522.0,221.5 L524.0,221.5 L526.0,221.5 L528.0,221.5 L530.0,221.5 L532.0,221.5 L534.0,221.5 L536.0,221.6 L538.0,221.6 L540.0,221.6 L542.0,221.6 L544.0,221.6 L546.0,221.6 L548.0,221.6 L550.0,221.6 L552.0,221.6 L554.0,221.6 L556.0,221.6 L558.0,221.6 L560.0,221.6 L562.0,221.6 L564.0,221.6 L566.0,221.7 L568.0,221.7 L570.0,221.7 L572.0,221.7 L574.0,221.7 L576.0,221.7 L578.0,221.7 L580.0,221.7 L582.0,221.7 L584.0,221.7 L586.0,221.7 L588.0,221.7 L590.0,221.7 L592.0,221.7 L594.0,221.7 L596.0,221.7 L598.0,221.7 L600.0,221.7 L602.0,221.7 L604.0,221.7 L606.0,221.7 L608.0,221.7 L610.0,221.7 L612.0,221.7 L614.0,221.7 L616.0,221.7 L618.0,221.7 L620.0,221.7 L622.0,221.7 L624.0,221.7 L626.0,221.7 L628.0,221.7 L630.0,221.7 L632.0,221.7 L634.0,221.7 L636.0,221.7 L638.0,221.7 L640.0,221.7 L642.0,221.7 L644.0,221.7 L646.0,221.7 L648.0,221.7 L650.0,221.7 L652.0,221.7 L654.0,221.7 L656.0,221.7 L658.0,221.7 L660.0,221.7 L662.0,221.7 L664.0,221.7 L666.0,221.7 L668.0,221.7 L670.0,221.7 L672.0,221.7 L674.0,221.7 L676.0,221.7 L678.0,221.7 L680.0,221.7 L682.0,221.7 L684.0,221.7 L686.0,221.7 L688.0,221.7 L690.0,221.7 L692.0,221.7 L694.0,221.7 L696.0,221.7 L698.0,221.7 L700.0,221.7 L702.0,221.7 L704.0,221.7 L706.0,221.7 L708.0,221.7 L710.0,221.7 L712.0,221.7 L714.0,221.7 L716.0,221.7 L718.0,221.7 L720.0,221.7 L722.0,221.7 L724.0,221.7 L726.0,221.7 L728.0,221.7 L730.0,221.7 L732.0,221.7 L734.0,221.7 L736.0,221.7 L738.0,221.7 L740.0,221.7 L742.0,221.7 L744.0,221.7 L746.0,221.7 L748.0,221.7 L750.0,221.7 L752.0,221.7 L754.0,221.7 L756.0,221.7 L758.0,221.7 L760.0,221.7 L762.0,221.7 L764.0,221.7 L766.0,221.7 L768.0,221.7 L770.0,221.7 L772.0,221.7 L774.0,221.7 L776.0,221.7 L778.0,221.7 L780.0,221.7 L782.0,221.7 L784.0,221.7 L786.0,221.7 L788.0,221.7 L790.0,221.7 L792.0,221.7 L794.0,221.7 L796.0,221.7 L798.0,221.7 L800.0,221.7 L802.0,221.7 L804.0,221.7 L806.0,221.7 L808.0,221.7 L810.0,221.7 L812.0,221.7 L813.6,221.7" stroke="#000" stroke-width="3" stroke-dasharray="9.8 8.7"/>
<path d="M100.0,291.0 L102.0,289.8 L104.0,288.7 L106.0,287.5 L108.0,286.4 L110.0,285.2 L112.0,284.1 L114.0,283.0 L116.0,281.8 L118.0,280.7 L120.0,279.6 L122.0,278.5 L124.0,277.5 L126.0,276.4 L128.0,275.4 L130.0,274.3 L132.0,273.3 L134.0,272.3 L136.0,271.2 L138.0,270.2 L140.0,269.1 L142.0,268.0 L144.0,266.9 L146.0,265.7 L148.0,264.6 L150.0,263.4 L152.0,262.3 L154.0,261.1 L156.0,260.0 L158.0,259.0 L160.0,258.0 L162.0,256.9 L164.0,255.9 L166.0,254.9 L168.0,254.0 L170.0,253.0 L172.0,252.1 L174.0,251.2 L176.0,250.3 L178.0,249.4 L180.0,248.6 L182.0,247.7 L184.0,246.9 L186.0,246.1 L188.0,245.3 L190.0,244.6 L192.0,243.8 L194.0,243.1 L196.0,242.3 L198.0,241.6 L200.0,240.9 L202.0,240.2 L204.0,239.4 L206.0,238.7 L208.0,238.0 L210.0,237.3 L212.0,236.6 L214.0,236.0 L216.0,235.3 L218.0,234.6 L220.0,234.0 L222.0,233.4 L224.0,232.8 L226.0,232.2 L228.0,231.6 L230.0,231.0 L232.0,230.5 L234.0,230.0 L236.0,229.5 L238.0,229.0 L240.0,228.5 L242.0,228.0 L244.0,227.5 L246.0,227.0 L248.0,226.6 L250.0,226.1 L252.0,225.7 L254.0,225.2 L256.0,224.8 L258.0,224.4 L260.0,224.0 L262.0,223.6 L264.0,223.2 L266.0,222.8 L268.0,222.4 L270.0,222.0 L272.0,221.6 L274.0,221.3 L276.0,220.9 L278.0,220.5 L280.0,220.1 L282.0,219.7 L284.0,219.3 L286.0,218.9 L288.0,218.5 L290.0,218.2 L292.0,217.9 L294.0,217.6 L296.0,217.3 L298.0,217.1 L300.0,217.0 L302.0,216.8 L304.0,216.7 L306.0,216.6 L308.0,216.5 L310.0,216.4 L312.0,216.3 L314.0,216.2 L316.0,216.1 L318.0,216.1 L320.0,216.0 L322.0,215.9 L324.0,215.9 L326.0,215.8 L328.0,215.8 L330.0,215.8 L332.0,215.7 L334.0,215.7 L336.0,215.7 L338.0,215.7 L340.0,215.6 L342.0,215.6 L344.0,215.6 L346.0,215.6 L348.0,215.6 L350.0,215.5 L352.0,215.5 L354.0,215.5 L356.0,215.5 L358.0,215.5 L360.0,215.5 L362.0,215.5 L364.0,215.5 L366.0,215.5 L368.0,215.5 L370.0,215.6 L372.0,215.6 L374.0,215.6 L376.0,215.7 L378.0,215.7 L380.0,215.7 L382.0,215.8 L384.0,215.8 L386.0,215.9 L388.0,215.9 L390.0,216.0 L392.0,216.0 L394.0,216.1 L396.0,216.1 L398.0,216.2 L400.0,216.2 L402.0,216.3 L404.0,216.3 L406.0,216.4 L408.0,216.5 L410.0,216.5 L412.0,216.6 L414.0,216.7 L416.0,216.7 L418.0,216.8 L420.0,216.9 L422.0,217.0 L424.0,217.0 L426.0,217.1 L428.0,217.2 L430.0,217.2 L432.0,217.3 L434.0,217.4 L436.0,217.5 L438.0,217.5 L440.0,217.6 L442.0,217.7 L444.0,217.8 L446.0,217.8 L448.0,217.9 L450.0,218.0 L452.0,218.1 L454.0,218.2 L456.0,218.2 L458.0,218.3 L460.0,218.4 L462.0,218.5 L464.0,218.6 L466.0,218.6 L468.0,218.7 L470.0,218.8 L472.0,218.9 L474.0,219.0 L476.0,219.0 L478.0,219.1 L480.0,219.2 L482.0,219.3 L484.0,219.4 L486.0,219.5 L488.0,219.6 L490.0,219.7 L492.0,219.7 L494.0,219.8 L496.0,219.9 L498.0,220.0 L500.0,220.0 L502.0,220.1 L504.0,220.2 L506.0,220.2 L508.0,220.3 L510.0,220.3 L512.0,220.4 L514.0,220.5 L516.0,220.5 L518.0,220.6 L520.0,220.6 L522.0,220.7 L524.0,220.8 L526.0,220.8 L528.0,220.9 L530.0,220.9 L532.0,221.0 L534.0,221.0 L536.0,221.1 L538.0,221.1 L540.0,221.2 L542.0,221.2 L544.0,221.2 L546.0,221.3 L548.0,221.3 L550.0,221.3 L552.0,221.3 L554.0,221.4 L556.0,221.4 L558.0,221.4 L560.0,221.4 L562.0,221.4 L564.0,221.4 L566.0,221.4 L568.0,221.4 L570.0,221.4 L572.0,221.4 L574.0,221.4 L576.0,221.4 L578.0,221.4 L580.0,221.5 L582.0,221.5 L584.0,221.5 L586.0,221.5 L588.0,221.5 L590.0,221.5 L592.0,221.5 L594.0,221.5 L596.0,221.5 L598.0,221.5 L600.0,221.5 L602.0,221.5 L604.0,221.5 L606.0,221.5 L608.0,221.5 L610.0,221.5 L612.0,221.5 L614.0,221.5 L616.0,221.5 L618.0,221.5 L620.0,221.5 L622.0,221.5 L624.0,221.5 L626.0,221.6 L628.0,221.6 L630.0,221.6 L632.0,221.6 L634.0,221.6 L636.0,221.6 L638.0,221.6 L640.0,221.6 L642.0,221.6 L644.0,221.6 L646.0,221.6 L648.0,221.6 L650.0,221.6 L652.0,221.6 L654.0,221.6 L656.0,221.6 L658.0,221.6 L660.0,221.6 L662.0,221.6 L664.0,221.6 L666.0,221.6 L668.0,221.6 L670.0,221.6 L672.0,221.6 L674.0,221.6 L676.0,221.6 L678.0,221.6 L680.0,221.6 L682.0,221.6 L684.0,221.6 L686.0,221.6 L688.0,221.6 L690.0,221.6 L692.0,221.6 L694.0,221.6 L696.0,221.6 L698.0,221.6 L700.0,221.7 L702.0,221.7 L704.0,221.7 L706.0,221.7 L708.0,221.7 L710.0,221.7 L712.0,221.7 L714.0,221.7 L716.0,221.7 L718.0,221.7 L720.0,221.7 L722.0,221.7 L724.0,221.7 L726.0,221.7 L728.0,221.7 L730.0,221.7 L732.0,221.7 L734.0,221.7 L736.0,221.7 L738.0,221.7 L740.0,221.7 L742.0,221.7 L744.0,221.7 L746.0,221.7 L748.0,221.7 L750.0,221.7 L752.0,221.7 L754.0,221.7 L756.0,221.7 L758.0,221.7 L760.0,221.7 L762.0,221.7 L764.0,221.7 L766.0,221.7 L768.0,221.7 L770.0,221.7 L772.0,221.7 L774.0,221.7 L776.0,221.7 L778.0,221.7 L780.0,221.7 L782.0,221.7 L784.0,221.7 L786.0,221.7 L788.0,221.7 L790.0,221.7 L792.0,221.7 L794.0,221.7 L796.0,221.7 L798.0,221.7 L800.0,221.7 L802.0,221.7 L804.0,221.7 L806.0,221.7 L808.0,221.7 L810.0,221.7 L812.0,221.7 L813.6,221.7" stroke="#000" stroke-width="3" stroke-dasharray="2.4 4.0"/>
<path d="M99.0,480.4 L101.0,480.0 L103.0,479.7 L105.0,479.3 L107.0,478.9 L109.0,478.5 L111.0,478.1 L113.0,477.8 L115.0,477.4 L117.0,477.0 L119.0,476.6 L121.0,476.2 L123.0,475.8 L125.0,475.4 L127.0,475.0 L129.0,474.6 L131.0,474.2 L133.0,473.8 L135.0,473.4 L137.0,473.0 L139.0,472.6 L141.0,472.2 L143.0,471.8 L145.0,471.4 L147.0,471.0 L149.0,470.6 L151.0,470.2 L153.0,469.8 L155.0,469.4 L157.0,469.0 L159.0,468.6 L161.0,468.2 L163.0,467.8 L165.0,467.4 L167.0,467.0 L169.0,466.6 L171.0,466.2 L173.0,465.7 L175.0,465.3 L177.0,464.8 L179.0,464.3 L181.0,463.9 L183.0,463.4 L185.0,462.8 L187.0,462.3 L189.0,461.8 L191.0,461.2 L193.0,460.7 L195.0,460.1 L197.0,459.5 L199.0,458.9 L201.0,458.3 L203.0,457.6 L205.0,457.0 L207.0,456.3 L209.0,455.7 L211.0,455.0 L213.0,454.3 L215.0,453.5 L217.0,452.8 L219.0,452.1 L221.0,451.3 L223.0,450.5 L225.0,449.7 L227.0,448.8 L229.0,448.0 L231.0,447.0 L233.0,446.1 L235.0,445.1 L237.0,444.2 L239.0,443.2 L241.0,442.1 L243.0,441.1 L245.0,440.0 L247.0,439.0 L249.0,437.9 L251.0,436.8 L253.0,435.7 L255.0,434.6 L257.0,433.5 L259.0,432.4 L261.0,431.3 L263.0,430.1 L265.0,428.9 L267.0,427.7 L269.0,426.5 L271.0,425.3 L273.0,424.0 L275.0,422.7 L277.0,421.4 L279.0,420.2 L281.0,418.9 L283.0,417.6 L285.0,416.3 L287.0,415.0 L289.0,413.7 L291.0,412.4 L293.0,411.1 L295.0,409.8 L297.0,408.5 L299.0,407.1 L301.0,405.7 L303.0,404.3 L305.0,402.8 L307.0,401.3 L309.0,399.7 L311.0,398.2 L313.0,396.5 L315.0,394.9 L317.0,393.2 L319.0,391.5 L321.0,389.8 L323.0,388.1 L325.0,386.3 L327.0,384.6 L329.0,382.8 L331.0,381.0 L333.0,379.1 L335.0,377.3 L337.0,375.4 L339.0,373.6 L341.0,371.7 L343.0,369.8 L345.0,368.0 L347.0,366.1 L349.0,364.2 L351.0,362.3 L353.0,360.4 L355.0,358.5 L357.0,356.6 L359.0,354.7 L361.0,352.8 L363.0,350.8 L365.0,348.8 L367.0,346.8 L369.0,344.8 L371.0,342.8 L373.0,340.7 L375.0,338.7 L377.0,336.7 L379.0,334.7 L381.0,332.7 L383.0,330.7 L385.0,328.7 L387.0,326.7 L389.0,324.8 L391.0,322.8 L393.0,320.8 L395.0,318.8 L397.0,316.8 L399.0,314.8 L401.0,312.8 L403.0,310.8 L405.0,308.8 L407.0,306.7 L409.0,304.6 L411.0,302.6 L413.0,300.5 L415.0,298.4 L417.0,296.4 L419.0,294.3 L421.0,292.3 L423.0,290.3 L425.0,288.3 L427.0,286.3 L429.0,284.4 L431.0,282.4 L433.0,280.5 L435.0,278.5 L437.0,276.5 L439.0,274.5 L441.0,272.5 L443.0,270.5 L445.0,268.6 L447.0,266.7 L449.0,264.9 L451.0,263.3 L453.0,261.6 L455.0,260.1 L457.0,258.5 L459.0,257.0 L461.0,255.5 L463.0,254.0 L465.0,252.4 L467.0,250.9 L469.0,249.4 L471.0,248.0 L473.0,246.7 L475.0,245.5 L477.0,244.4 L479.0,243.4 L481.0,242.5 L483.0,241.5 L485.0,240.6 L487.0,239.6 L489.0,238.6 L491.0,237.5 L493.0,236.5 L495.0,235.5 L497.0,234.6 L499.0,233.7 L501.0,232.9 L503.0,232.0 L505.0,231.2 L507.0,230.5 L509.0,229.7 L511.0,229.0 L513.0,228.4 L515.0,227.7 L517.0,227.0 L519.0,226.4 L521.0,225.8 L523.0,225.2 L525.0,224.6 L527.0,224.1 L529.0,223.6 L531.0,223.2 L533.0,222.9 L535.0,222.6 L537.0,222.4 L539.0,222.1 L541.0,221.8 L543.0,221.6 L545.0,221.4 L547.0,221.2 L549.0,221.1 L551.0,221.0 L553.0,220.9 L555.0,220.8 L557.0,220.8 L559.0,220.7 L561.0,220.7 L563.0,220.6 L565.0,220.6 L567.0,220.5 L569.0,220.5 L571.0,220.5 L573.0,220.5 L575.0,220.5 L577.0,220.5 L579.0,220.5 L581.0,220.5 L583.0,220.5 L585.0,220.5 L587.0,220.5 L589.0,220.5 L591.0,220.6 L593.0,220.6 L595.0,220.6 L597.0,220.6 L599.0,220.6 L601.0,220.6 L603.0,220.7 L605.0,220.7 L607.0,220.7 L609.0,220.7 L611.0,220.7 L613.0,220.7 L615.0,220.8 L617.0,220.8 L619.0,220.8 L621.0,220.8 L623.0,220.8 L625.0,220.8 L627.0,220.9 L629.0,220.9 L631.0,220.9 L633.0,220.9 L635.0,221.0 L637.0,221.0 L639.0,221.0 L641.0,221.1 L643.0,221.1 L645.0,221.1 L647.0,221.1 L649.0,221.2 L651.0,221.2 L653.0,221.2 L655.0,221.3 L657.0,221.3 L659.0,221.3 L661.0,221.3 L663.0,221.4 L665.0,221.4 L667.0,221.4 L669.0,221.4 L671.0,221.4 L673.0,221.5 L675.0,221.5 L677.0,221.5 L679.0,221.5 L681.0,221.5 L683.0,221.5 L685.0,221.5 L687.0,221.5 L689.0,221.5 L691.0,221.5 L693.0,221.5 L695.0,221.5 L697.0,221.5 L699.0,221.6 L701.0,221.6 L703.0,221.6 L705.0,221.6 L707.0,221.6 L709.0,221.6 L711.0,221.6 L713.0,221.6 L715.0,221.6 L717.0,221.6 L719.0,221.6 L721.0,221.6 L723.0,221.6 L725.0,221.6 L727.0,221.6 L729.0,221.6 L731.0,221.6 L733.0,221.6 L735.0,221.6 L737.0,221.6 L739.0,221.6 L741.0,221.6 L743.0,221.6 L745.0,221.6 L747.0,221.6 L749.0,221.7 L751.0,221.7 L753.0,221.7 L755.0,221.7 L757.0,221.7 L759.0,221.7 L761.0,221.7 L763.0,221.7 L765.0,221.7 L767.0,221.7 L769.0,221.7 L771.0,221.7 L773.0,221.7 L775.0,221.7 L777.0,221.7 L779.0,221.7 L781.0,221.7 L783.0,221.7 L785.0,221.7 L787.0,221.7 L789.0,221.7 L791.0,221.7 L793.0,221.7 L795.0,221.7 L797.0,221.7 L799.0,221.7 L801.0,221.7 L803.0,221.7 L805.0,221.7 L807.0,221.7 L809.0,221.7 L811.0,221.7 L813.0,221.7 L813.6,221.7" stroke="#696969" stroke-width="3" stroke-dasharray="9.4 4.5 2.7 4.5"/>
<path d="M99.0,458.4 L101.0,457.9 L103.0,457.4 L105.0,457.0 L107.0,456.5 L109.0,456.0 L111.0,455.5 L113.0,455.0 L115.0,454.6 L117.0,454.1 L119.0,453.6 L121.0,453.1 L123.0,452.7 L125.0,452.2 L127.0,451.7 L129.0,451.2 L131.0,450.8 L133.0,450.3 L135.0,449.8 L137.0,449.3 L139.0,448.9 L141.0,448.4 L143.0,447.9 L145.0,447.4 L147.0,447.0 L149.0,446.5 L151.0,446.0 L153.0,445.6 L155.0,445.1 L157.0,444.7 L159.0,444.2 L161.0,443.8 L163.0,443.3 L165.0,442.9 L167.0,442.4 L169.0,442.0 L171.0,441.5 L173.0,441.0 L175.0,440.6 L177.0,440.1 L179.0,439.6 L181.0,439.1 L183.0,438.6 L185.0,438.0 L187.0,437.5 L189.0,437.0 L191.0,436.4 L193.0,435.9 L195.0,435.3 L197.0,434.7 L199.0,434.2 L201.0,433.6 L203.0,433.0 L205.0,432.4 L207.0,431.8 L209.0,431.2 L211.0,430.5 L213.0,429.9 L215.0,429.3 L217.0,428.6 L219.0,427.9 L221.0,427.3 L223.0,426.6 L225.0,425.9 L227.0,425.2 L229.0,424.5 L231.0,423.7 L233.0,423.0 L235.0,422.2 L237.0,421.5 L239.0,420.7 L241.0,419.9 L243.0,419.1 L245.0,418.3 L247.0,417.4 L249.0,416.6 L251.0,415.7 L253.0,414.9 L255.0,414.0 L257.0,413.1 L259.0,412.1 L261.0,411.2 L263.0,410.2 L265.0,409.2 L267.0,408.1 L269.0,407.1 L271.0,406.0 L273.0,404.9 L275.0,403.7 L277.0,402.6 L279.0,401.4 L281.0,400.2 L283.0,399.1 L285.0,397.9 L287.0,396.7 L289.0,395.5 L291.0,394.3 L293.0,393.0 L295.0,391.8 L297.0,390.5 L299.0,389.3 L301.0,388.0 L303.0,386.6 L305.0,385.3 L307.0,384.0 L309.0,382.6 L311.0,381.2 L313.0,379.8 L315.0,378.5 L317.0,377.1 L319.0,375.6 L321.0,374.2 L323.0,372.8 L325.0,371.3 L327.0,369.8 L329.0,368.3 L331.0,366.8 L333.0,365.3 L335.0,363.7 L337.0,362.1 L339.0,360.5 L341.0,358.9 L343.0,357.2 L345.0,355.5 L347.0,353.7 L349.0,352.0 L351.0,350.1 L353.0,348.3 L355.0,346.4 L357.0,344.5 L359.0,342.6 L361.0,340.7 L363.0,338.8 L365.0,337.0 L367.0,335.1 L369.0,333.2 L371.0,331.4 L373.0,329.6 L375.0,327.8 L377.0,325.9 L379.0,324.1 L381.0,322.3 L383.0,320.4 L385.0,318.6 L387.0,316.8 L389.0,315.0 L391.0,313.2 L393.0,311.5 L395.0,309.7 L397.0,308.0 L399.0,306.3 L401.0,304.6 L403.0,303.0 L405.0,301.4 L407.0,299.7 L409.0,298.1 L411.0,296.5 L413.0,294.9 L415.0,293.3 L417.0,291.7 L419.0,290.0 L421.0,288.4 L423.0,286.8 L425.0,285.1 L427.0,283.5 L429.0,281.9 L431.0,280.3 L433.0,278.6 L435.0,276.9 L437.0,275.2 L439.0,273.4 L441.0,271.6 L443.0,269.8 L445.0,268.1 L447.0,266.3 L449.0,264.7 L451.0,263.1 L453.0,261.5 L455.0,260.0 L457.0,258.5 L459.0,257.0 L461.0,255.5 L463.0,254.0 L465.0,252.5 L467.0,250.9 L469.0,249.4 L471.0,248.0 L473.0,246.7 L475.0,245.5 L477.0,244.4 L479.0,243.4 L481.0,242.5 L483.0,241.5 L485.0,240.6 L487.0,239.6 L489.0,238.6 L491.0,237.5 L493.0,236.5 L495.0,235.5 L497.0,234.6 L499.0,233.7 L501.0,232.9 L503.0,232.0 L505.0,231.2 L507.0,230.5 L509.0,229.7 L511.0,229.0 L513.0,228.4 L515.0,227.7 L517.0,227.0 L519.0,226.4 L521.0,225.8 L523.0,225.2 L525.0,224.6 L527.0,224.1 L529.0,223.6 L531.0,223.2 L533.0,222.9 L535.0,222.6 L537.0,222.4 L539.0,222.1 L541.0,221.8 L543.0,221.6 L545.0,221.4 L547.0,221.2 L549.0,221.1 L551.0,221.0 L553.0,220.9 L555.0,220.8 L557.0,220.8 L559.0,220.7 L561.0,220.7 L563.0,220.6 L565.0,220.6 L567.0,220.5 L569.0,220.5 L571.0,220.5 L573.0,220.5 L575.0,220.5 L577.0,220.5 L579.0,220.5 L581.0,220.5 L583.0,220.5 L585.0,220.5 L587.0,220.5 L589.0,220.5 L591.0,220.6 L593.0,220.6 L595.0,220.6 L597.0,220.6 L599.0,220.6 L601.0,220.6 L603.0,220.7 L605.0,220.7 L607.0,220.7 L609.0,220.7 L611.0,220.7 L613.0,220.7 L615.0,220.8 L617.0,220.8 L619.0,220.8 L621.0,220.8 L623.0,220.8 L625.0,220.8 L627.0,220.9 L629.0,220.9 L631.0,220.9 L633.0,220.9 L635.0,221.0 L637.0,221.0 L639.0,221.0 L641.0,221.1 L643.0,221.1 L645.0,221.1 L647.0,221.1 L649.0,221.2 L651.0,221.2 L653.0,221.2 L655.0,221.3 L657.0,221.3 L659.0,221.3 L661.0,221.3 L663.0,221.4 L665.0,221.4 L667.0,221.4 L669.0,221.4 L671.0,221.4 L673.0,221.5 L675.0,221.5 L677.0,221.5 L679.0,221.5 L681.0,221.5 L683.0,221.5 L685.0,221.5 L687.0,221.5 L689.0,221.5 L691.0,221.5 L693.0,221.5 L695.0,221.5 L697.0,221.5 L699.0,221.6 L701.0,221.6 L703.0,221.6 L705.0,221.6 L707.0,221.6 L709.0,221.6 L711.0,221.6 L713.0,221.6 L715.0,221.6 L717.0,221.6 L719.0,221.6 L721.0,221.6 L723.0,221.6 L725.0,221.6 L727.0,221.6 L729.0,221.6 L731.0,221.6 L733.0,221.6 L735.0,221.6 L737.0,221.6 L739.0,221.6 L741.0,221.6 L743.0,221.6 L745.0,221.6 L747.0,221.6 L749.0,221.7 L751.0,221.7 L753.0,221.7 L755.0,221.7 L757.0,221.7 L759.0,221.7 L761.0,221.7 L763.0,221.7 L765.0,221.7 L767.0,221.7 L769.0,221.7 L771.0,221.7 L773.0,221.7 L775.0,221.7 L777.0,221.7 L779.0,221.7 L781.0,221.7 L783.0,221.7 L785.0,221.7 L787.0,221.7 L789.0,221.7 L791.0,221.7 L793.0,221.7 L795.0,221.7 L797.0,221.7 L799.0,221.7 L801.0,221.7 L803.0,221.7 L805.0,221.7 L807.0,221.7 L809.0,221.7 L811.0,221.7 L813.0,221.7 L813.6,221.7" stroke="#696969" stroke-width="3" stroke-dasharray="14.1 4.4 3 3.8 3 3.8 3 4.4"/>
<path d="M411.8,-12.8 L412.4,-11.3 L412.9,-9.8 L413.5,-8.3 L414.1,-6.8 L414.7,-5.3 L415.3,-3.9 L415.9,-2.4 L416.5,-0.9 L417.1,0.5 L417.7,2.0 L418.3,3.4 L419.0,4.8 L419.6,6.3 L420.3,7.7 L420.9,9.1 L421.6,10.5 L422.3,11.9 L423.0,13.3 L423.7,14.7 L424.4,16.1 L425.1,17.5 L425.8,18.8 L426.5,20.2 L427.2,21.5 L428.0,22.9 L428.7,24.2 L429.5,25.6 L430.2,26.9 L431.0,28.2 L431.8,29.6 L432.5,30.9 L433.3,32.2 L434.1,33.5 L434.9,34.8 L435.7,36.1 L436.5,37.3 L437.3,38.6 L438.2,39.9 L439.0,41.2 L439.8,42.4 L440.7,43.7 L441.5,44.9 L442.4,46.2 L443.3,47.4 L444.1,48.6 L445.0,49.9 L445.9,51.1 L446.8,52.3 L447.7,53.5 L448.6,54.7 L449.5,55.9 L450.4,57.1 L451.3,58.3 L452.2,59.4 L453.2,60.6 L454.1,61.8 L455.0,62.9 L456.0,64.1 L457.0,65.3 L457.9,66.4 L458.9,67.5 L459.9,68.7 L460.8,69.8 L461.8,70.9 L462.8,72.1 L463.8,73.2 L464.8,74.3 L465.8,75.4 L466.8,76.5 L467.8,77.6 L468.9,78.7 L469.9,79.7 L470.9,80.8 L472.0,81.9 L473.0,83.0 L474.0,84.0 L475.1,85.1 L476.2,86.1 L477.2,87.2 L478.3,88.2 L479.4,89.2 L480.4,90.3 L481.5,91.3 L482.6,92.3 L483.7,93.3 L484.8,94.4 L485.9,95.4 L487.0,96.4 L488.1,97.4 L489.2,98.4 L490.4,99.3 L491.5,100.3 L492.6,101.3 L493.8,102.3 L494.9,103.3 L496.0,104.2 L497.2,105.2 L498.3,106.1 L499.5,107.1 L500.7,108.0 L501.8,109.0 L503.0,109.9 L504.2,110.8 L505.3,111.8 L506.5,112.7 L507.7,113.6 L508.9,114.5 L510.1,115.4 L511.3,116.3 L512.5,117.3 L513.7,118.1 L514.9,119.0 L516.1,119.9 L517.3,120.8 L518.6,121.7 L519.8,122.6 L521.0,123.5 L522.3,124.3 L523.5,125.2 L524.7,126.0 L526.0,126.9 L527.2,127.8 L528.5,128.6 L529.7,129.4 L531.0,130.3 L532.2,131.1 L533.5,132.0 L534.8,132.8 L536.0,133.6 L537.3,134.4 L538.6,135.3 L539.8,136.1 L541.1,136.9 L542.4,137.7 L543.7,138.5 L545.0,139.3 L546.3,140.1 L547.6,140.9 L548.9,141.7 L550.2,142.4 L551.5,143.2 L552.8,144.0 L554.1,144.8 L555.4,145.5 L556.7,146.3 L558.0,147.1 L559.4,147.8 L560.7,148.6 L562.0,149.3 L563.3,150.1 L564.6,150.8 L566.0,151.6 L567.3,152.3 L568.6,153.1 L570.0,153.8 L571.3,154.5 L572.7,155.2 L574.0,156.0 L575.4,156.7 L576.7,157.4 L578.0,158.1 L579.4,158.8 L580.8,159.5 L582.1,160.2 L583.5,160.9 L584.8,161.6 L586.2,162.3 L587.5,163.0 L588.9,163.7 L590.3,164.4 L591.6,165.1 L593.0,165.8 L594.4,166.5 L595.7,167.1 L597.1,167.8 L598.5,168.5 L599.9,169.1 L601.2,169.8 L602.6,170.5 L604.0,171.1 L605.4,171.8 L606.8,172.4 L608.1,173.1 L609.5,173.7 L610.9,174.4 L612.3,175.0 L613.7,175.7 L615.1,176.3 L616.5,176.9 L617.8,177.6 L619.2,178.2 L620.6,178.8 L622.0,179.5 L623.4,180.1 L624.8,180.7 L626.2,181.3 L627.6,181.9 L629.0,182.5 L630.4,183.2 L631.8,183.8 L633.2,184.4 L634.6,185.0 L636.0,185.6 L637.4,186.2 L638.8,186.8 L640.2,187.4 L641.5,188.0 L642.9,188.6 L644.3,189.2 L645.7,189.8 L647.1,190.3 L648.5,190.9 L649.9,191.5 L651.3,192.1 L652.7,192.7 L654.1,193.3 L655.5,193.8 L656.9,194.4 L658.3,195.0 L659.7,195.5 L661.1,196.1 L662.5,196.7 L663.9,197.2 L665.3,197.8 L666.7,198.4 L668.1,198.9 L669.5,199.5 L670.9,200.0 L672.3,200.6 L673.6,201.2 L675.0,201.7 L676.4,202.3 L677.8,202.8 L679.2,203.4 L680.6,203.9 L682.0,204.5 L683.4,205.0 L684.7,205.5 L686.1,206.1 L687.5,206.6 L688.9,207.2 L690.3,207.7 L691.6,208.2 L693.0,208.8 L694.4,209.3 L695.8,209.8 L697.1,210.4 L698.5,210.9 L699.9,211.4 L701.3,212.0 L702.6,212.5 L704.0,213.0 L705.3,213.5 L706.7,214.1 L708.1,214.6 L709.4,215.1 L710.8,215.6 L712.1,216.2 L713.5,216.7" stroke="#ff0000" stroke-width="3.05" stroke-linejoin="round"/>
<path d="M697.5,210.6 L698.9,211.1 L700.3,211.5 L701.8,212.0 L703.2,212.5 L704.6,213.0 L706.0,213.5 L707.4,214.0 L708.8,214.5 L710.2,215.0 L711.6,215.5 L713.0,216.0 L714.4,216.5 L715.8,217.1 L717.2,217.7 L718.6,218.2 L720.0,218.8 L721.3,219.4 L722.7,219.9 L724.2,220.3 L725.6,220.7 L727.0,221.1 L728.5,221.5 L730.0,221.7 L731.5,221.9 L732.9,222.1 L734.4,222.2 L735.9,222.3 L737.4,222.4 L738.9,222.5 L740.4,222.5 L741.9,222.5 L743.4,222.5 L744.9,222.5 L746.4,222.5 L747.9,222.4 L749.4,222.4 L750.9,222.4 L752.4,222.3 L753.8,222.3 L755.3,222.2 L756.8,222.2 L758.3,222.1 L759.8,222.1 L761.3,222.0 L762.8,221.9 L764.3,221.9 L765.8,221.8 L767.3,221.7 L768.8,221.7 L770.3,221.7 L771.8,221.7 L773.3,221.7 L774.8,221.7 L776.2,221.7 L777.7,221.7 L779.2,221.7 L780.7,221.7 L782.2,221.7 L783.7,221.7 L785.2,221.7 L786.7,221.7 L788.2,221.7 L789.7,221.7 L791.2,221.7 L792.7,221.7 L794.2,221.7 L795.7,221.7 L797.2,221.7 L798.7,221.7 L800.1,221.7 L801.6,221.7 L803.1,221.7 L804.6,221.7 L806.1,221.7 L807.6,221.7 L809.1,221.7 L810.6,221.7 L812.1,221.7 L813.6,221.7" stroke="#ff0000" stroke-width="3.05" stroke-linejoin="round"/>
</g>
<g font-family="Liberation Sans, sans-serif" font-size="29.5" fill="#000" stroke="#000" stroke-width="0.35">
<text transform="translate(99.5,553.2) scale(1,1.025)" text-anchor="middle">–5</text>
<text transform="translate(218.5,553.2) scale(1,1.025)" text-anchor="middle">–4</text>
<text transform="translate(337.5,553.2) scale(1,1.025)" text-anchor="middle">–3</text>
<text transform="translate(456.6,553.2) scale(1,1.025)" text-anchor="middle">–2</text>
<text transform="translate(575.6,553.2) scale(1,1.025)" text-anchor="middle">–1</text>
<text transform="translate(694.6,553.2) scale(1,1.025)" text-anchor="middle">0</text>
<text transform="translate(813.6,553.2) scale(1,1.025)" text-anchor="middle">1</text>
<text transform="translate(91.5,484.0) scale(1,1.025)" text-anchor="end">0.4</text>
<text transform="translate(91.5,400.0) scale(1,1.025)" text-anchor="end">0.6</text>
<text transform="translate(91.5,316.0) scale(1,1.025)" text-anchor="end">0.8</text>
<text transform="translate(91.5,231.9) scale(1,1.025)" text-anchor="end">1.0</text>
<text transform="translate(91.5,147.9) scale(1,1.025)" text-anchor="end">1.2</text>
<text transform="translate(91.5,63.9) scale(1,1.025)" text-anchor="end">1.4</text>
<text x="406.3" y="584.8">log <tspan font-family="Liberation Serif, serif" font-size="31.5">τ</tspan><tspan font-size="18.3" dy="6.2" dx="0.6">5000</tspan></text>
</g>
<rect x="806.85" y="549.64" width="5.75" height="5.06" fill="#fff"/>
<rect x="815.65" y="549.64" width="5.52" height="5.06" fill="#fff"/>
<rect x="51.94" y="228.38" width="5.75" height="5.06" fill="#fff"/>
<rect x="60.75" y="228.38" width="5.52" height="5.06" fill="#fff"/>
<rect x="51.94" y="144.37" width="5.75" height="5.06" fill="#fff"/>
<rect x="60.75" y="144.37" width="5.52" height="5.06" fill="#fff"/>
<rect x="51.94" y="60.35" width="5.75" height="5.06" fill="#fff"/>
<rect x="60.75" y="60.35" width="5.52" height="5.06" fill="#fff"/>
<g transform="translate(28.3,274.5) rotate(-90)"><text x="0" y="0" font-family="Liberation Serif, serif" font-weight="bold" font-style="italic" font-size="30" fill="#000">b</text><text x="15.5" y="6" font-family="Liberation Sans, sans-serif" font-size="17.6" fill="#000">i</text></g>
<text transform="translate(302.1,179.8) scale(1,1.025)" font-family="Liberation Sans, sans-serif" font-size="33.4" fill="#000" stroke="#000" stroke-width="0.35">5d <tspan font-size="20.8" dy="-14.8">2</tspan><tspan dy="14.8">D</tspan></text>
<text transform="translate(314.2,276.9) scale(1,1.025)" font-family="Liberation Sans, sans-serif" font-size="33.4" fill="#0000ff" stroke="#0000ff" stroke-width="0.35">6s <tspan font-size="20.8" dy="-14.8">2</tspan><tspan dy="14.8">S</tspan></text>
<text transform="translate(218.5,390.2) scale(1,1.025)" font-family="Liberation Sans, sans-serif" font-size="33.4" fill="#6e6e6e" stroke="#6e6e6e" stroke-width="0.35">6p <tspan font-size="20.8" dy="-14.8">2</tspan><tspan dy="14.8">P</tspan></text>
<text transform="translate(634.6,116.6) scale(1,1.0)" font-family="Liberation Sans, sans-serif" font-size="34.4" fill="#ff0000" stroke="#ff0000" stroke-width="0.35">Ba III</text>
</svg>
</body></html>
